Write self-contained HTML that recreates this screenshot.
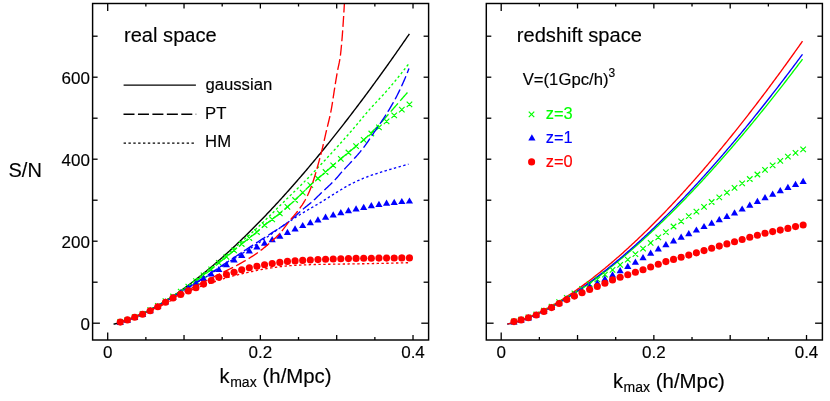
<!DOCTYPE html>
<html><head><meta charset="utf-8"><title>S/N</title>
<style>
html,body{margin:0;padding:0;background:#fff;overflow:hidden;}
body{width:830px;height:401px;position:relative;overflow:hidden;font-family:"Liberation Sans",sans-serif;color:#000;}
</style></head><body>
<svg width="830" height="401" viewBox="0 0 830 401" style="position:absolute;left:0;top:0">
<defs><clipPath id="cl"><rect x="92.6" y="3.5" width="336.0" height="336.5"/></clipPath></defs>
<rect width="830" height="401" fill="#fff"/>
<path d="M113.50,324.18 L114.49,323.98 L115.48,323.76 L116.47,323.53 L117.46,323.28 L118.45,323.03 L119.44,322.76 L120.43,322.48 L121.42,322.18 L122.41,321.88 L123.40,321.56 L124.39,321.24 L125.38,320.91 L126.37,320.56 L127.35,320.21 L128.34,319.85 L129.33,319.47 L130.32,319.09 L131.31,318.70 L132.30,318.31 L133.29,317.90 L134.28,317.49 L135.27,317.07 L136.26,316.64 L137.25,316.20 L138.24,315.76 L139.23,315.30 L140.22,314.85 L141.21,314.38 L142.20,313.91 L143.19,313.43 L144.18,312.94 L145.17,312.44 L146.16,311.94 L147.15,311.44 L148.14,310.92 L149.13,310.40 L150.12,309.88 L151.11,309.34 L152.10,308.80 L153.09,308.26 L154.07,307.71 L155.06,307.15 L156.05,306.59 L157.04,306.02 L158.03,305.44 L159.02,304.86 L160.01,304.27 L161.00,303.68 L161.99,303.08 L162.98,302.48 L163.97,301.87 L164.96,301.26 L165.95,300.64 L166.94,300.01 L167.93,299.38 L168.92,298.74 L169.91,298.10 L170.90,297.46 L171.89,296.80 L172.88,296.15 L173.87,295.48 L174.86,294.82 L175.85,294.14 L176.84,293.47 L177.83,292.79 L178.82,292.10 L179.81,291.41 L180.79,290.71 L181.78,290.01 L182.77,289.30 L183.76,288.59 L184.75,287.87 L185.74,287.15 L186.73,286.43 L187.72,285.70 L188.71,284.96 L189.70,284.22 L190.69,283.48 L191.68,282.73 L192.67,281.98 L193.66,281.22 L194.65,280.46 L195.64,279.69 L196.63,278.92 L197.62,278.15 L198.61,277.37 L199.60,276.58 L200.59,275.80 L201.58,275.00 L202.57,274.21 L203.56,273.41 L204.55,272.60 L205.54,271.79 L206.53,270.98 L207.52,270.16 L208.50,269.34 L209.49,268.51 L210.48,267.68 L211.47,266.85 L212.46,266.01 L213.45,265.17 L214.44,264.32 L215.43,263.47 L216.42,262.62 L217.41,261.76 L218.40,260.89 L219.39,260.03 L220.38,259.16 L221.37,258.28 L222.36,257.41 L223.35,256.52 L224.34,255.64 L225.33,254.75 L226.32,253.86 L227.31,252.96 L228.30,252.06 L229.29,251.15 L230.28,250.24 L231.27,249.33 L232.26,248.41 L233.25,247.49 L234.24,246.57 L235.22,245.64 L236.21,244.71 L237.20,243.78 L238.19,242.84 L239.18,241.90 L240.17,240.95 L241.16,240.00 L242.15,239.05 L243.14,238.09 L244.13,237.13 L245.12,236.17 L246.11,235.20 L247.10,234.23 L248.09,233.26 L249.08,232.28 L250.07,231.30 L251.06,230.32 L252.05,229.33 L253.04,228.34 L254.03,227.34 L255.02,226.34 L256.01,225.34 L257.00,224.34 L257.99,223.33 L258.98,222.32 L259.97,221.30 L260.96,220.28 L261.94,219.26 L262.93,218.23 L263.92,217.20 L264.91,216.17 L265.90,215.14 L266.89,214.10 L267.88,213.06 L268.87,212.01 L269.86,210.96 L270.85,209.91 L271.84,208.85 L272.83,207.80 L273.82,206.73 L274.81,205.67 L275.80,204.60 L276.79,203.53 L277.78,202.45 L278.77,201.38 L279.76,200.30 L280.75,199.21 L281.74,198.12 L282.73,197.03 L283.72,195.94 L284.71,194.84 L285.70,193.74 L286.69,192.64 L287.68,191.53 L288.66,190.42 L289.65,189.31 L290.64,188.20 L291.63,187.08 L292.62,185.96 L293.61,184.83 L294.60,183.70 L295.59,182.57 L296.58,181.44 L297.57,180.30 L298.56,179.16 L299.55,178.02 L300.54,176.87 L301.53,175.72 L302.52,174.57 L303.51,173.42 L304.50,172.26 L305.49,171.10 L306.48,169.93 L307.47,168.77 L308.46,167.60 L309.45,166.42 L310.44,165.25 L311.43,164.07 L312.42,162.89 L313.41,161.70 L314.40,160.51 L315.38,159.32 L316.37,158.13 L317.36,156.93 L318.35,155.74 L319.34,154.53 L320.33,153.33 L321.32,152.12 L322.31,150.91 L323.30,149.70 L324.29,148.48 L325.28,147.26 L326.27,146.04 L327.26,144.81 L328.25,143.59 L329.24,142.36 L330.23,141.12 L331.22,139.89 L332.21,138.65 L333.20,137.41 L334.19,136.16 L335.18,134.92 L336.17,133.67 L337.16,132.41 L338.15,131.16 L339.14,129.90 L340.13,128.64 L341.12,127.37 L342.11,126.11 L343.09,124.84 L344.08,123.57 L345.07,122.29 L346.06,121.01 L347.05,119.73 L348.04,118.45 L349.03,117.17 L350.02,115.88 L351.01,114.59 L352.00,113.29 L352.99,112.00 L353.98,110.70 L354.97,109.40 L355.96,108.09 L356.95,106.78 L357.94,105.47 L358.93,104.16 L359.92,102.85 L360.91,101.53 L361.90,100.21 L362.89,98.89 L363.88,97.56 L364.87,96.23 L365.86,94.90 L366.85,93.57 L367.84,92.23 L368.83,90.90 L369.81,89.55 L370.80,88.21 L371.79,86.86 L372.78,85.52 L373.77,84.16 L374.76,82.81 L375.75,81.45 L376.74,80.09 L377.73,78.73 L378.72,77.37 L379.71,76.00 L380.70,74.63 L381.69,73.26 L382.68,71.89 L383.67,70.51 L384.66,69.13 L385.65,67.75 L386.64,66.36 L387.63,64.98 L388.62,63.59 L389.61,62.20 L390.60,60.80 L391.59,59.40 L392.58,58.00 L393.57,56.60 L394.56,55.20 L395.55,53.79 L396.53,52.38 L397.52,50.97 L398.51,49.56 L399.50,48.14 L400.49,46.72 L401.48,45.30 L402.47,43.87 L403.46,42.45 L404.45,41.02 L405.44,39.59 L406.43,38.15 L407.42,36.72 L408.41,35.28 L409.40,33.84" stroke="#000" stroke-width="1.4" fill="none"/>
<path d="M120.25,322.10 L120.97,321.91 L121.70,321.71 L122.42,321.51 L123.14,321.30 L123.87,321.09 L124.59,320.87 L125.31,320.65 L126.04,320.43 L126.76,320.19 L127.48,319.96 L128.21,319.72 L128.93,319.47 L129.65,319.22 L130.38,318.97 L131.10,318.71 L131.82,318.44 L132.55,318.17 L133.27,317.90 L134.00,317.63 L134.72,317.35 L135.44,317.06 L136.17,316.78 L136.89,316.48 L137.61,316.19 L138.34,315.89 L139.06,315.59 L139.78,315.28 L140.51,314.98 L141.23,314.66 L141.95,314.35 L142.68,314.03 L143.40,313.71 L144.12,313.38 L144.85,313.06 L145.57,312.73 L146.29,312.39 L147.02,312.06 L147.74,311.72 L148.46,311.38 L149.19,311.04 L149.91,310.69 L150.63,310.34 L151.36,309.98 L152.08,309.62 L152.80,309.24 L153.53,308.86 L154.25,308.47 L154.97,308.08 L155.70,307.67 L156.42,307.26 L157.15,306.85 L157.87,306.42 L158.59,305.99 L159.32,305.56 L160.04,305.12 L160.76,304.67 L161.49,304.22 L162.21,303.76 L162.93,303.30 L163.66,302.83 L164.38,302.36 L165.10,301.89 L165.83,301.41 L166.55,300.93 L167.27,300.44 L168.00,299.95 L168.72,299.46 L169.44,298.97 L170.17,298.47 L170.89,297.97 L171.61,297.47 L172.34,296.97 L173.06,296.46 L173.78,295.95 L174.51,295.45 L175.23,294.94 L175.95,294.43 L176.68,293.92 L177.40,293.41 L178.12,292.90 L178.85,292.39 L179.57,291.88 L180.29,291.37 L181.02,290.86 L181.74,290.34 L182.47,289.82 L183.19,289.29 L183.91,288.75 L184.64,288.21 L185.36,287.66 L186.08,287.11 L186.81,286.55 L187.53,285.99 L188.25,285.43 L188.98,284.86 L189.70,284.29 L190.42,283.73 L191.15,283.16 L191.87,282.59 L192.59,282.02 L193.32,281.45 L194.04,280.89 L194.76,280.33 L195.49,279.76 L196.21,279.21 L196.93,278.65 L197.66,278.09 L198.38,277.54 L199.10,276.98 L199.83,276.43 L200.55,275.87 L201.27,275.32 L202.00,274.76 L202.72,274.21 L203.44,273.65 L204.17,273.10 L204.89,272.54 L205.62,271.99 L206.34,271.43 L207.06,270.87 L207.79,270.31 L208.51,269.75 L209.23,269.19 L209.96,268.62 L210.68,268.06 L211.40,267.49 L212.13,266.92 L212.85,266.35 L213.57,265.78 L214.30,265.20 L215.02,264.62 L215.74,264.04 L216.47,263.46 L217.19,262.87 L217.91,262.28 L218.64,261.69 L219.36,261.09 L220.08,260.49 L220.81,259.89 L221.53,259.28 L222.25,258.67 L222.98,258.06 L223.70,257.44 L224.42,256.82 L225.15,256.20 L225.87,255.58 L226.59,254.95 L227.32,254.33 L228.04,253.70 L228.77,253.07 L229.49,252.44 L230.21,251.80 L230.94,251.17 L231.66,250.53 L232.38,249.89 L233.11,249.26 L233.83,248.62 L234.55,247.98 L235.28,247.34 L236.00,246.70 L236.72,246.06 L237.45,245.42 L238.17,244.78 L238.89,244.15 L239.62,243.51 L240.34,242.87 L241.06,242.23 L241.79,241.60 L242.51,240.97 L243.23,240.33 L243.96,239.70 L244.68,239.07 L245.40,238.44 L246.13,237.81 L246.85,237.17 L247.57,236.54 L248.30,235.91 L249.02,235.27 L249.74,234.63 L250.47,233.99 L251.19,233.35 L251.91,232.70 L252.64,232.05 L253.36,231.40 L254.09,230.74 L254.81,230.08 L255.53,229.41 L256.26,228.74 L256.98,228.06 L257.70,227.39 L258.43,226.71 L259.15,226.02 L259.87,225.34 L260.60,224.65 L261.32,223.96 L262.04,223.26 L262.77,222.57 L263.49,221.87 L264.21,221.17 L264.94,220.47 L265.66,219.76 L266.38,219.06 L267.11,218.35 L267.83,217.64 L268.55,216.93 L269.28,216.22 L270.00,215.51 L270.72,214.79 L271.45,214.08 L272.17,213.36 L272.89,212.65 L273.62,211.93 L274.34,211.21 L275.06,210.50 L275.79,209.78 L276.51,209.06 L277.24,208.35 L277.96,207.63 L278.68,206.91 L279.41,206.20 L280.13,205.48 L280.85,204.76 L281.58,204.05 L282.30,203.34 L283.02,202.63 L283.75,201.91 L284.47,201.20 L285.19,200.50 L285.92,199.79 L286.64,199.08 L287.36,198.38 L288.09,197.68 L288.81,196.98 L289.53,196.28 L290.26,195.58 L290.98,194.88 L291.70,194.18 L292.43,193.48 L293.15,192.78 L293.87,192.08 L294.60,191.38 L295.32,190.68 L296.04,189.98 L296.77,189.28 L297.49,188.57 L298.21,187.86 L298.94,187.16 L299.66,186.44 L300.38,185.73 L301.11,185.01 L301.83,184.29 L302.56,183.57 L303.28,182.84 L304.00,182.11 L304.73,181.38 L305.45,180.64 L306.17,179.90 L306.90,179.16 L307.62,178.42 L308.34,177.67 L309.07,176.93 L309.79,176.18 L310.51,175.44 L311.24,174.69 L311.96,173.94 L312.68,173.18 L313.41,172.43 L314.13,171.68 L314.85,170.92 L315.58,170.16 L316.30,169.41 L317.02,168.65 L317.75,167.88 L318.47,167.12 L319.19,166.36 L319.92,165.59 L320.64,164.83 L321.36,164.06 L322.09,163.29 L322.81,162.52 L323.53,161.75 L324.26,160.97 L324.98,160.20 L325.71,159.42 L326.43,158.64 L327.15,157.86 L327.88,157.08 L328.60,156.30 L329.32,155.52 L330.05,154.74 L330.77,153.95 L331.49,153.16 L332.22,152.38 L332.94,151.59 L333.66,150.80 L334.39,150.00 L335.11,149.21 L335.83,148.41 L336.56,147.62 L337.28,146.82 L338.00,146.02 L338.73,145.22 L339.45,144.42 L340.17,143.62 L340.90,142.81 L341.62,142.01 L342.34,141.20 L343.07,140.39 L343.79,139.59 L344.51,138.77 L345.24,137.96 L345.96,137.15 L346.68,136.34 L347.41,135.52 L348.13,134.70 L348.86,133.88 L349.58,133.06 L350.30,132.24 L351.03,131.41 L351.75,130.58 L352.47,129.74 L353.20,128.89 L353.92,128.03 L354.64,127.18 L355.37,126.32 L356.09,125.45 L356.81,124.58 L357.54,123.71 L358.26,122.84 L358.98,121.97 L359.71,121.10 L360.43,120.22 L361.15,119.35 L361.88,118.48 L362.60,117.61 L363.32,116.75 L364.05,115.88 L364.77,115.02 L365.49,114.17 L366.22,113.32 L366.94,112.48 L367.66,111.64 L368.39,110.81 L369.11,109.99 L369.83,109.17 L370.56,108.37 L371.28,107.57 L372.00,106.77 L372.73,105.99 L373.45,105.21 L374.18,104.43 L374.90,103.66 L375.62,102.89 L376.35,102.12 L377.07,101.35 L377.79,100.59 L378.52,99.82 L379.24,99.05 L379.96,98.29 L380.69,97.52 L381.41,96.74 L382.13,95.96 L382.86,95.18 L383.58,94.39 L384.30,93.60 L385.03,92.80 L385.75,91.99 L386.47,91.17 L387.20,90.35 L387.92,89.51 L388.64,88.68 L389.37,87.83 L390.09,86.99 L390.81,86.13 L391.54,85.28 L392.26,84.42 L392.98,83.56 L393.71,82.69 L394.43,81.82 L395.15,80.95 L395.88,80.07 L396.60,79.19 L397.33,78.30 L398.05,77.41 L398.77,76.52 L399.50,75.62 L400.22,74.72 L400.94,73.81 L401.67,72.90 L402.39,71.99 L403.11,71.07 L403.84,70.15 L404.56,69.23 L405.28,68.30 L406.01,67.37 L406.73,66.43 L407.45,65.49 L408.18,64.55 L408.90,63.60" stroke="#0f0" stroke-width="1.35" fill="none" stroke-dasharray="2.4 2.45"/>
<path d="M120.25,322.00 L120.97,321.80 L121.69,321.59 L122.41,321.38 L123.13,321.16 L123.86,320.94 L124.58,320.72 L125.30,320.49 L126.02,320.26 L126.74,320.02 L127.46,319.78 L128.18,319.53 L128.90,319.28 L129.63,319.02 L130.35,318.76 L131.07,318.50 L131.79,318.22 L132.51,317.95 L133.23,317.67 L133.95,317.39 L134.67,317.11 L135.39,316.83 L136.12,316.54 L136.84,316.25 L137.56,315.95 L138.28,315.66 L139.00,315.35 L139.72,315.05 L140.44,314.74 L141.16,314.43 L141.89,314.11 L142.61,313.79 L143.33,313.46 L144.05,313.13 L144.77,312.79 L145.49,312.45 L146.21,312.10 L146.93,311.75 L147.65,311.40 L148.38,311.04 L149.10,310.67 L149.82,310.30 L150.54,309.92 L151.26,309.54 L151.98,309.15 L152.70,308.75 L153.42,308.35 L154.15,307.94 L154.87,307.53 L155.59,307.11 L156.31,306.69 L157.03,306.27 L157.75,305.84 L158.47,305.42 L159.19,304.98 L159.91,304.54 L160.64,304.09 L161.36,303.64 L162.08,303.19 L162.80,302.74 L163.52,302.29 L164.24,301.84 L164.96,301.40 L165.68,300.96 L166.41,300.52 L167.13,300.09 L167.85,299.66 L168.57,299.23 L169.29,298.80 L170.01,298.36 L170.73,297.93 L171.45,297.50 L172.17,297.06 L172.90,296.61 L173.62,296.16 L174.34,295.71 L175.06,295.25 L175.78,294.78 L176.50,294.32 L177.22,293.85 L177.94,293.38 L178.67,292.92 L179.39,292.45 L180.11,291.98 L180.83,291.52 L181.55,291.06 L182.27,290.60 L182.99,290.14 L183.71,289.69 L184.43,289.23 L185.16,288.78 L185.88,288.31 L186.60,287.85 L187.32,287.37 L188.04,286.89 L188.76,286.40 L189.48,285.90 L190.20,285.40 L190.93,284.88 L191.65,284.36 L192.37,283.84 L193.09,283.31 L193.81,282.78 L194.53,282.25 L195.25,281.72 L195.97,281.18 L196.69,280.65 L197.42,280.11 L198.14,279.56 L198.86,279.02 L199.58,278.47 L200.30,277.92 L201.02,277.37 L201.74,276.81 L202.46,276.26 L203.19,275.70 L203.91,275.14 L204.63,274.59 L205.35,274.03 L206.07,273.47 L206.79,272.91 L207.51,272.34 L208.23,271.78 L208.95,271.21 L209.68,270.63 L210.40,270.05 L211.12,269.47 L211.84,268.87 L212.56,268.26 L213.28,267.65 L214.00,267.03 L214.72,266.40 L215.45,265.77 L216.17,265.15 L216.89,264.53 L217.61,263.91 L218.33,263.31 L219.05,262.72 L219.77,262.13 L220.49,261.56 L221.21,261.00 L221.94,260.44 L222.66,259.88 L223.38,259.33 L224.10,258.77 L224.82,258.21 L225.54,257.63 L226.26,257.05 L226.98,256.46 L227.71,255.86 L228.43,255.25 L229.15,254.63 L229.87,254.02 L230.59,253.39 L231.31,252.77 L232.03,252.15 L232.75,251.53 L233.47,250.91 L234.20,250.30 L234.92,249.69 L235.64,249.07 L236.36,248.46 L237.08,247.85 L237.80,247.24 L238.52,246.63 L239.24,246.03 L239.97,245.43 L240.69,244.83 L241.41,244.24 L242.13,243.65 L242.85,243.07 L243.57,242.50 L244.29,241.93 L245.01,241.37 L245.73,240.80 L246.46,240.24 L247.18,239.68 L247.90,239.12 L248.62,238.55 L249.34,237.99 L250.06,237.42 L250.78,236.86 L251.50,236.31 L252.23,235.75 L252.95,235.19 L253.67,234.63 L254.39,234.07 L255.11,233.50 L255.83,232.92 L256.55,232.33 L257.27,231.73 L257.99,231.10 L258.72,230.46 L259.44,229.81 L260.16,229.15 L260.88,228.48 L261.60,227.82 L262.32,227.16 L263.04,226.52 L263.76,225.89 L264.49,225.27 L265.21,224.68 L265.93,224.10 L266.65,223.53 L267.37,222.98 L268.09,222.42 L268.81,221.88 L269.53,221.33 L270.26,220.78 L270.98,220.24 L271.70,219.69 L272.42,219.13 L273.14,218.58 L273.86,218.03 L274.58,217.48 L275.30,216.93 L276.02,216.38 L276.75,215.83 L277.47,215.27 L278.19,214.71 L278.91,214.14 L279.63,213.56 L280.35,212.97 L281.07,212.36 L281.79,211.75 L282.52,211.13 L283.24,210.51 L283.96,209.88 L284.68,209.24 L285.40,208.61 L286.12,207.97 L286.84,207.33 L287.56,206.70 L288.28,206.07 L289.01,205.44 L289.73,204.80 L290.45,204.17 L291.17,203.53 L291.89,202.89 L292.61,202.25 L293.33,201.60 L294.05,200.94 L294.78,200.28 L295.50,199.61 L296.22,198.93 L296.94,198.24 L297.66,197.54 L298.38,196.84 L299.10,196.13 L299.82,195.42 L300.54,194.71 L301.27,194.00 L301.99,193.29 L302.71,192.59 L303.43,191.89 L304.15,191.18 L304.87,190.47 L305.59,189.76 L306.31,189.05 L307.04,188.34 L307.76,187.64 L308.48,186.94 L309.20,186.25 L309.92,185.58 L310.64,184.91 L311.36,184.25 L312.08,183.61 L312.80,182.96 L313.53,182.33 L314.25,181.70 L314.97,181.07 L315.69,180.45 L316.41,179.83 L317.13,179.21 L317.85,178.58 L318.57,177.96 L319.30,177.34 L320.02,176.73 L320.74,176.12 L321.46,175.51 L322.18,174.90 L322.90,174.29 L323.62,173.67 L324.34,173.06 L325.06,172.44 L325.79,171.82 L326.51,171.19 L327.23,170.56 L327.95,169.92 L328.67,169.28 L329.39,168.65 L330.11,168.01 L330.83,167.37 L331.56,166.74 L332.28,166.10 L333.00,165.48 L333.72,164.85 L334.44,164.23 L335.16,163.61 L335.88,162.99 L336.60,162.37 L337.32,161.76 L338.05,161.15 L338.77,160.53 L339.49,159.93 L340.21,159.32 L340.93,158.71 L341.65,158.11 L342.37,157.51 L343.09,156.91 L343.82,156.32 L344.54,155.72 L345.26,155.13 L345.98,154.53 L346.70,153.94 L347.42,153.35 L348.14,152.75 L348.86,152.16 L349.58,151.56 L350.31,150.97 L351.03,150.37 L351.75,149.77 L352.47,149.18 L353.19,148.58 L353.91,147.99 L354.63,147.39 L355.35,146.80 L356.08,146.20 L356.80,145.61 L357.52,145.02 L358.24,144.44 L358.96,143.86 L359.68,143.28 L360.40,142.69 L361.12,142.10 L361.84,141.50 L362.57,140.89 L363.29,140.26 L364.01,139.62 L364.73,138.97 L365.45,138.30 L366.17,137.62 L366.89,136.93 L367.61,136.23 L368.34,135.53 L369.06,134.82 L369.78,134.10 L370.50,133.39 L371.22,132.68 L371.94,131.97 L372.66,131.26 L373.38,130.55 L374.10,129.83 L374.83,129.11 L375.55,128.39 L376.27,127.67 L376.99,126.93 L377.71,126.20 L378.43,125.45 L379.15,124.70 L379.87,123.93 L380.60,123.16 L381.32,122.38 L382.04,121.58 L382.76,120.78 L383.48,119.97 L384.20,119.15 L384.92,118.33 L385.64,117.51 L386.36,116.68 L387.09,115.85 L387.81,115.02 L388.53,114.19 L389.25,113.36 L389.97,112.53 L390.69,111.71 L391.41,110.88 L392.13,110.06 L392.86,109.23 L393.58,108.40 L394.30,107.56 L395.02,106.73 L395.74,105.90 L396.46,105.07 L397.18,104.24 L397.90,103.41 L398.62,102.58 L399.35,101.75 L400.07,100.92 L400.79,100.10 L401.51,99.28 L402.23,98.45 L402.95,97.63 L403.67,96.81 L404.39,95.99 L405.12,95.17 L405.84,94.35 L406.56,93.53 L407.28,92.72 L408.00,91.90" stroke="#0f0" stroke-width="1.35" fill="none" stroke-dasharray="11 3.45" stroke-dashoffset="1.82"/>
<path d="M117.50,319.25L123.00,324.75M117.50,324.75L123.00,319.25M124.65,317.05L130.15,322.55M124.65,322.55L130.15,317.05M131.95,314.35L137.45,319.85M131.95,319.85L137.45,314.35M139.82,311.05L145.32,316.55M139.82,316.55L145.32,311.05M147.45,307.35L152.95,312.85M147.45,312.85L152.95,307.35M155.07,303.05L160.57,308.55M155.07,308.55L160.57,303.05M162.70,298.35L168.20,303.85M162.70,303.85L168.20,298.35M170.32,293.75L175.82,299.25M170.32,299.25L175.82,293.75M177.95,288.85L183.45,294.35M177.95,294.35L183.45,288.85M185.57,283.95L191.07,289.45M185.57,289.45L191.07,283.95M193.20,278.45L198.70,283.95M193.20,283.95L198.70,278.45M200.82,272.65L206.32,278.15M200.82,278.15L206.32,272.65M208.45,266.65L213.95,272.15M208.45,272.15L213.95,266.65M216.07,260.15L221.57,265.65M216.07,265.65L221.57,260.15M223.70,254.15L229.20,259.65M223.70,259.65L229.20,254.15M231.32,247.65L236.82,253.15M231.32,253.15L236.82,247.65M238.95,241.25L244.45,246.75M238.95,246.75L244.45,241.25M246.57,235.25L252.07,240.75M246.57,240.75L252.07,235.25M254.20,229.25L259.70,234.75M254.20,234.75L259.70,229.25M261.82,222.45L267.32,227.95M261.82,227.95L267.32,222.45M269.45,216.55L274.95,222.05M269.45,222.05L274.95,216.55M277.07,210.65L282.57,216.15M277.07,216.15L282.57,210.65M284.70,204.05L290.20,209.55M284.70,209.55L290.20,204.05M292.32,197.25L297.82,202.75M292.32,202.75L297.82,197.25M299.95,189.85L305.45,195.35M299.95,195.35L305.45,189.85M307.57,182.45L313.07,187.95M307.57,187.95L313.07,182.45M315.20,175.75L320.70,181.25M315.20,181.25L320.70,175.75M322.82,169.25L328.32,174.75M322.82,174.75L328.32,169.25M330.45,162.55L335.95,168.05M330.45,168.05L335.95,162.55M338.07,156.05L343.57,161.55M338.07,161.55L343.57,156.05M345.70,149.75L351.20,155.25M345.70,155.25L351.20,149.75M353.32,143.45L358.82,148.95M353.32,148.95L358.82,143.45M360.95,137.15L366.45,142.65M360.95,142.65L366.45,137.15M368.57,130.75L374.07,136.25M368.57,136.25L374.07,130.75M376.20,124.55L381.70,130.05M376.20,130.05L381.70,124.55M383.82,118.55L389.32,124.05M383.82,124.05L389.32,118.55M391.45,112.65L396.95,118.15M391.45,118.15L396.95,112.65M399.07,106.95L404.57,112.45M399.07,112.45L404.57,106.95M406.70,101.55L412.20,107.05M406.70,107.05L412.20,101.55" stroke="#0f0" stroke-width="1.2" fill="none"/>
<path d="M120.25,322.10 L120.97,321.87 L121.69,321.64 L122.42,321.40 L123.14,321.16 L123.86,320.92 L124.58,320.67 L125.31,320.42 L126.03,320.16 L126.75,319.91 L127.47,319.65 L128.20,319.38 L128.92,319.12 L129.64,318.85 L130.36,318.58 L131.09,318.30 L131.81,318.02 L132.53,317.74 L133.25,317.46 L133.98,317.17 L134.70,316.88 L135.42,316.58 L136.14,316.29 L136.87,315.99 L137.59,315.69 L138.31,315.39 L139.03,315.08 L139.76,314.77 L140.48,314.46 L141.20,314.15 L141.92,313.83 L142.65,313.51 L143.37,313.19 L144.09,312.87 L144.81,312.54 L145.54,312.21 L146.26,311.88 L146.98,311.55 L147.70,311.21 L148.42,310.88 L149.15,310.54 L149.87,310.20 L150.59,309.86 L151.31,309.51 L152.04,309.15 L152.76,308.80 L153.48,308.43 L154.20,308.06 L154.93,307.68 L155.65,307.30 L156.37,306.91 L157.09,306.52 L157.82,306.12 L158.54,305.72 L159.26,305.32 L159.98,304.91 L160.71,304.50 L161.43,304.08 L162.15,303.66 L162.87,303.24 L163.60,302.81 L164.32,302.38 L165.04,301.95 L165.76,301.52 L166.49,301.08 L167.21,300.65 L167.93,300.21 L168.65,299.77 L169.38,299.33 L170.10,298.88 L170.82,298.44 L171.54,298.00 L172.27,297.55 L172.99,297.11 L173.71,296.67 L174.43,296.22 L175.15,295.78 L175.88,295.34 L176.60,294.90 L177.32,294.46 L178.04,294.02 L178.77,293.58 L179.49,293.14 L180.21,292.71 L180.93,292.28 L181.66,291.85 L182.38,291.42 L183.10,290.99 L183.82,290.55 L184.55,290.12 L185.27,289.69 L185.99,289.25 L186.71,288.82 L187.44,288.38 L188.16,287.95 L188.88,287.51 L189.60,287.07 L190.33,286.63 L191.05,286.19 L191.77,285.75 L192.49,285.31 L193.22,284.87 L193.94,284.43 L194.66,283.98 L195.38,283.54 L196.11,283.09 L196.83,282.65 L197.55,282.20 L198.27,281.75 L198.99,281.31 L199.72,280.86 L200.44,280.41 L201.16,279.95 L201.88,279.50 L202.61,279.05 L203.33,278.60 L204.05,278.14 L204.77,277.68 L205.50,277.23 L206.22,276.77 L206.94,276.30 L207.66,275.84 L208.39,275.38 L209.11,274.91 L209.83,274.44 L210.55,273.97 L211.28,273.51 L212.00,273.03 L212.72,272.56 L213.44,272.09 L214.17,271.62 L214.89,271.15 L215.61,270.67 L216.33,270.20 L217.06,269.73 L217.78,269.25 L218.50,268.78 L219.22,268.30 L219.95,267.83 L220.67,267.36 L221.39,266.89 L222.11,266.41 L222.84,265.94 L223.56,265.47 L224.28,265.00 L225.00,264.53 L225.72,264.07 L226.45,263.60 L227.17,263.13 L227.89,262.67 L228.61,262.20 L229.34,261.74 L230.06,261.28 L230.78,260.81 L231.50,260.35 L232.23,259.89 L232.95,259.43 L233.67,258.97 L234.39,258.50 L235.12,258.04 L235.84,257.58 L236.56,257.12 L237.28,256.66 L238.01,256.20 L238.73,255.74 L239.45,255.28 L240.17,254.81 L240.90,254.35 L241.62,253.89 L242.34,253.43 L243.06,252.97 L243.79,252.50 L244.51,252.04 L245.23,251.57 L245.95,251.11 L246.68,250.64 L247.40,250.18 L248.12,249.71 L248.84,249.25 L249.57,248.79 L250.29,248.32 L251.01,247.86 L251.73,247.40 L252.45,246.93 L253.18,246.47 L253.90,246.01 L254.62,245.54 L255.34,245.07 L256.07,244.60 L256.79,244.13 L257.51,243.65 L258.23,243.18 L258.96,242.70 L259.68,242.22 L260.40,241.73 L261.12,241.24 L261.85,240.75 L262.57,240.25 L263.29,239.75 L264.01,239.25 L264.74,238.74 L265.46,238.24 L266.18,237.73 L266.90,237.21 L267.63,236.70 L268.35,236.19 L269.07,235.67 L269.79,235.15 L270.52,234.64 L271.24,234.12 L271.96,233.60 L272.68,233.08 L273.41,232.56 L274.13,232.04 L274.85,231.52 L275.57,231.00 L276.30,230.49 L277.02,229.97 L277.74,229.45 L278.46,228.94 L279.18,228.43 L279.91,227.92 L280.63,227.41 L281.35,226.91 L282.07,226.40 L282.80,225.90 L283.52,225.41 L284.24,224.91 L284.96,224.42 L285.69,223.94 L286.41,223.45 L287.13,222.96 L287.85,222.48 L288.58,222.00 L289.30,221.51 L290.02,221.03 L290.74,220.56 L291.47,220.08 L292.19,219.60 L292.91,219.13 L293.63,218.66 L294.36,218.19 L295.08,217.72 L295.80,217.26 L296.52,216.79 L297.25,216.33 L297.97,215.87 L298.69,215.42 L299.41,214.97 L300.14,214.52 L300.86,214.07 L301.58,213.63 L302.30,213.19 L303.03,212.75 L303.75,212.32 L304.47,211.89 L305.19,211.47 L305.91,211.04 L306.64,210.62 L307.36,210.20 L308.08,209.78 L308.80,209.36 L309.53,208.94 L310.25,208.52 L310.97,208.11 L311.69,207.69 L312.42,207.27 L313.14,206.85 L313.86,206.44 L314.58,206.02 L315.31,205.59 L316.03,205.17 L316.75,204.75 L317.47,204.32 L318.20,203.89 L318.92,203.45 L319.64,203.02 L320.36,202.58 L321.09,202.14 L321.81,201.69 L322.53,201.24 L323.25,200.79 L323.98,200.33 L324.70,199.88 L325.42,199.42 L326.14,198.96 L326.87,198.50 L327.59,198.04 L328.31,197.58 L329.03,197.13 L329.76,196.67 L330.48,196.21 L331.20,195.75 L331.92,195.30 L332.64,194.85 L333.37,194.40 L334.09,193.96 L334.81,193.51 L335.53,193.07 L336.26,192.63 L336.98,192.19 L337.70,191.74 L338.42,191.30 L339.15,190.85 L339.87,190.41 L340.59,189.96 L341.31,189.52 L342.04,189.08 L342.76,188.64 L343.48,188.21 L344.20,187.78 L344.93,187.36 L345.65,186.94 L346.37,186.52 L347.09,186.11 L347.82,185.71 L348.54,185.32 L349.26,184.93 L349.98,184.56 L350.71,184.19 L351.43,183.82 L352.15,183.45 L352.87,183.09 L353.60,182.74 L354.32,182.38 L355.04,182.03 L355.76,181.69 L356.48,181.35 L357.21,181.01 L357.93,180.68 L358.65,180.35 L359.37,180.03 L360.10,179.71 L360.82,179.39 L361.54,179.08 L362.26,178.77 L362.99,178.47 L363.71,178.18 L364.43,177.89 L365.15,177.60 L365.88,177.32 L366.60,177.04 L367.32,176.77 L368.04,176.50 L368.77,176.24 L369.49,175.98 L370.21,175.72 L370.93,175.47 L371.66,175.22 L372.38,174.97 L373.10,174.72 L373.82,174.48 L374.55,174.24 L375.27,174.00 L375.99,173.77 L376.71,173.53 L377.44,173.29 L378.16,173.06 L378.88,172.83 L379.60,172.60 L380.33,172.36 L381.05,172.13 L381.77,171.91 L382.49,171.68 L383.21,171.46 L383.94,171.23 L384.66,171.01 L385.38,170.79 L386.10,170.58 L386.83,170.36 L387.55,170.14 L388.27,169.93 L388.99,169.72 L389.72,169.51 L390.44,169.29 L391.16,169.08 L391.88,168.87 L392.61,168.66 L393.33,168.45 L394.05,168.25 L394.77,168.04 L395.50,167.83 L396.22,167.62 L396.94,167.41 L397.66,167.21 L398.39,167.00 L399.11,166.80 L399.83,166.59 L400.55,166.39 L401.28,166.19 L402.00,165.98 L402.72,165.78 L403.44,165.58 L404.17,165.38 L404.89,165.18 L405.61,164.99 L406.33,164.79 L407.06,164.59 L407.78,164.40 L408.50,164.20" stroke="#00f" stroke-width="1.35" fill="none" stroke-dasharray="2.4 2.45"/>
<path d="M120.25,322.10 L120.97,321.87 L121.70,321.63 L122.42,321.39 L123.14,321.15 L123.87,320.91 L124.59,320.66 L125.32,320.41 L126.04,320.15 L126.76,319.89 L127.49,319.63 L128.21,319.36 L128.93,319.09 L129.66,318.82 L130.38,318.55 L131.11,318.27 L131.83,317.99 L132.55,317.70 L133.28,317.41 L134.00,317.12 L134.72,316.83 L135.45,316.53 L136.17,316.24 L136.89,315.93 L137.62,315.63 L138.34,315.32 L139.07,315.01 L139.79,314.70 L140.51,314.39 L141.24,314.07 L141.96,313.75 L142.68,313.43 L143.41,313.10 L144.13,312.77 L144.86,312.45 L145.58,312.11 L146.30,311.78 L147.03,311.44 L147.75,311.10 L148.47,310.76 L149.20,310.42 L149.92,310.08 L150.64,309.73 L151.37,309.38 L152.09,309.02 L152.82,308.66 L153.54,308.29 L154.26,307.91 L154.99,307.53 L155.71,307.14 L156.43,306.75 L157.16,306.36 L157.88,305.95 L158.61,305.55 L159.33,305.14 L160.05,304.73 L160.78,304.31 L161.50,303.89 L162.22,303.46 L162.95,303.04 L163.67,302.61 L164.39,302.17 L165.12,301.74 L165.84,301.30 L166.57,300.86 L167.29,300.42 L168.01,299.97 L168.74,299.53 L169.46,299.08 L170.18,298.63 L170.91,298.18 L171.63,297.73 L172.36,297.28 L173.08,296.83 L173.80,296.38 L174.53,295.93 L175.25,295.48 L175.97,295.03 L176.70,294.58 L177.42,294.13 L178.14,293.69 L178.87,293.24 L179.59,292.80 L180.32,292.36 L181.04,291.92 L181.76,291.47 L182.49,291.03 L183.21,290.59 L183.93,290.15 L184.66,289.70 L185.38,289.26 L186.11,288.81 L186.83,288.36 L187.55,287.91 L188.28,287.46 L189.00,287.01 L189.72,286.56 L190.45,286.10 L191.17,285.65 L191.89,285.19 L192.62,284.74 L193.34,284.28 L194.07,283.82 L194.79,283.37 L195.51,282.91 L196.24,282.45 L196.96,281.99 L197.68,281.52 L198.41,281.06 L199.13,280.60 L199.86,280.14 L200.58,279.67 L201.30,279.21 L202.03,278.74 L202.75,278.28 L203.47,277.81 L204.20,277.34 L204.92,276.88 L205.64,276.41 L206.37,275.93 L207.09,275.46 L207.82,274.99 L208.54,274.51 L209.26,274.04 L209.99,273.56 L210.71,273.08 L211.43,272.60 L212.16,272.12 L212.88,271.64 L213.61,271.16 L214.33,270.68 L215.05,270.20 L215.78,269.72 L216.50,269.24 L217.22,268.75 L217.95,268.27 L218.67,267.79 L219.39,267.30 L220.12,266.82 L220.84,266.34 L221.57,265.85 L222.29,265.37 L223.01,264.89 L223.74,264.40 L224.46,263.92 L225.18,263.44 L225.91,262.96 L226.63,262.48 L227.36,262.00 L228.08,261.52 L228.80,261.04 L229.53,260.55 L230.25,260.07 L230.97,259.59 L231.70,259.11 L232.42,258.62 L233.14,258.14 L233.87,257.66 L234.59,257.17 L235.32,256.69 L236.04,256.21 L236.76,255.72 L237.49,255.24 L238.21,254.76 L238.93,254.27 L239.66,253.79 L240.38,253.31 L241.11,252.83 L241.83,252.35 L242.55,251.87 L243.28,251.39 L244.00,250.91 L244.72,250.43 L245.45,249.96 L246.17,249.48 L246.89,249.00 L247.62,248.53 L248.34,248.06 L249.07,247.58 L249.79,247.11 L250.51,246.64 L251.24,246.17 L251.96,245.70 L252.68,245.23 L253.41,244.76 L254.13,244.29 L254.86,243.82 L255.58,243.36 L256.30,242.89 L257.03,242.42 L257.75,241.95 L258.47,241.49 L259.20,241.02 L259.92,240.55 L260.64,240.08 L261.37,239.62 L262.09,239.15 L262.82,238.69 L263.54,238.23 L264.26,237.76 L264.99,237.30 L265.71,236.84 L266.43,236.37 L267.16,235.91 L267.88,235.44 L268.61,234.98 L269.33,234.51 L270.05,234.04 L270.78,233.57 L271.50,233.10 L272.22,232.64 L272.95,232.18 L273.67,231.73 L274.39,231.27 L275.12,230.82 L275.84,230.37 L276.57,229.91 L277.29,229.46 L278.01,229.00 L278.74,228.54 L279.46,228.08 L280.18,227.62 L280.91,227.16 L281.63,226.68 L282.36,226.21 L283.08,225.73 L283.80,225.24 L284.53,224.75 L285.25,224.25 L285.97,223.75 L286.70,223.23 L287.42,222.71 L288.14,222.18 L288.87,221.64 L289.59,221.08 L290.32,220.52 L291.04,219.92 L291.76,219.31 L292.49,218.68 L293.21,218.04 L293.93,217.38 L294.66,216.72 L295.38,216.05 L296.11,215.37 L296.83,214.69 L297.55,214.01 L298.28,213.34 L299.00,212.67 L299.72,212.01 L300.45,211.37 L301.17,210.74 L301.89,210.12 L302.62,209.51 L303.34,208.91 L304.07,208.32 L304.79,207.73 L305.51,207.15 L306.24,206.57 L306.96,205.98 L307.68,205.40 L308.41,204.82 L309.13,204.23 L309.86,203.63 L310.58,203.03 L311.30,202.42 L312.03,201.80 L312.75,201.17 L313.47,200.52 L314.20,199.86 L314.92,199.18 L315.64,198.48 L316.37,197.78 L317.09,197.06 L317.82,196.35 L318.54,195.63 L319.26,194.92 L319.99,194.21 L320.71,193.52 L321.43,192.83 L322.16,192.15 L322.88,191.47 L323.61,190.79 L324.33,190.12 L325.05,189.45 L325.78,188.77 L326.50,188.10 L327.22,187.43 L327.95,186.75 L328.67,186.07 L329.39,185.38 L330.12,184.69 L330.84,183.99 L331.57,183.29 L332.29,182.57 L333.01,181.85 L333.74,181.11 L334.46,180.37 L335.18,179.60 L335.91,178.82 L336.63,178.01 L337.36,177.18 L338.08,176.34 L338.80,175.49 L339.53,174.63 L340.25,173.78 L340.97,172.93 L341.70,172.10 L342.42,171.29 L343.14,170.49 L343.87,169.71 L344.59,168.93 L345.32,168.16 L346.04,167.40 L346.76,166.64 L347.49,165.88 L348.21,165.12 L348.93,164.36 L349.66,163.59 L350.38,162.82 L351.11,162.03 L351.83,161.24 L352.55,160.45 L353.28,159.66 L354.00,158.87 L354.72,158.07 L355.45,157.28 L356.17,156.47 L356.89,155.66 L357.62,154.84 L358.34,154.02 L359.07,153.17 L359.79,152.32 L360.51,151.44 L361.24,150.55 L361.96,149.64 L362.68,148.71 L363.41,147.76 L364.13,146.80 L364.86,145.82 L365.58,144.82 L366.30,143.82 L367.03,142.80 L367.75,141.78 L368.47,140.75 L369.20,139.71 L369.92,138.67 L370.64,137.61 L371.37,136.54 L372.09,135.44 L372.82,134.34 L373.54,133.25 L374.26,132.15 L374.99,131.08 L375.71,130.01 L376.43,128.95 L377.16,127.89 L377.88,126.84 L378.61,125.79 L379.33,124.74 L380.05,123.69 L380.78,122.63 L381.50,121.57 L382.22,120.49 L382.95,119.41 L383.67,118.31 L384.39,117.19 L385.12,116.06 L385.84,114.92 L386.57,113.77 L387.29,112.61 L388.01,111.45 L388.74,110.28 L389.46,109.09 L390.18,107.89 L390.91,106.68 L391.63,105.45 L392.36,104.20 L393.08,102.93 L393.80,101.63 L394.53,100.32 L395.25,98.98 L395.97,97.61 L396.70,96.22 L397.42,94.79 L398.14,93.35 L398.87,91.87 L399.59,90.37 L400.32,88.85 L401.04,87.31 L401.76,85.74 L402.49,84.15 L403.21,82.52 L403.93,80.87 L404.66,79.19 L405.38,77.47 L406.11,75.73 L406.83,73.96 L407.55,72.17 L408.28,70.35 L409.00,68.50" stroke="#00f" stroke-width="1.35" fill="none" stroke-dasharray="11 3.45" stroke-dashoffset="1.31"/>
<path d="M120.25,318.80 L123.85,325.00 L116.65,325.00Z" fill="#00f"/>
<path d="M127.40,316.60 L131.00,322.80 L123.80,322.80Z" fill="#00f"/>
<path d="M134.70,313.90 L138.30,320.10 L131.10,320.10Z" fill="#00f"/>
<path d="M142.57,310.70 L146.17,316.90 L138.97,316.90Z" fill="#00f"/>
<path d="M150.20,307.10 L153.80,313.30 L146.60,313.30Z" fill="#00f"/>
<path d="M157.82,302.90 L161.42,309.10 L154.22,309.10Z" fill="#00f"/>
<path d="M165.45,298.20 L169.05,304.40 L161.85,304.40Z" fill="#00f"/>
<path d="M173.07,293.80 L176.67,300.00 L169.47,300.00Z" fill="#00f"/>
<path d="M180.70,289.10 L184.30,295.30 L177.10,295.30Z" fill="#00f"/>
<path d="M188.32,284.30 L191.92,290.50 L184.72,290.50Z" fill="#00f"/>
<path d="M195.95,279.90 L199.55,286.10 L192.35,286.10Z" fill="#00f"/>
<path d="M203.57,274.90 L207.17,281.10 L199.97,281.10Z" fill="#00f"/>
<path d="M211.20,270.40 L214.80,276.60 L207.60,276.60Z" fill="#00f"/>
<path d="M218.82,265.90 L222.42,272.10 L215.22,272.10Z" fill="#00f"/>
<path d="M226.45,261.00 L230.05,267.20 L222.85,267.20Z" fill="#00f"/>
<path d="M234.07,256.20 L237.67,262.40 L230.47,262.40Z" fill="#00f"/>
<path d="M241.70,251.70 L245.30,257.90 L238.10,257.90Z" fill="#00f"/>
<path d="M249.32,247.20 L252.92,253.40 L245.72,253.40Z" fill="#00f"/>
<path d="M256.95,243.20 L260.55,249.40 L253.35,249.40Z" fill="#00f"/>
<path d="M264.57,239.50 L268.18,245.70 L260.97,245.70Z" fill="#00f"/>
<path d="M272.20,236.00 L275.80,242.20 L268.60,242.20Z" fill="#00f"/>
<path d="M279.82,232.50 L283.43,238.70 L276.22,238.70Z" fill="#00f"/>
<path d="M287.45,228.80 L291.05,235.00 L283.85,235.00Z" fill="#00f"/>
<path d="M295.07,225.20 L298.68,231.40 L291.47,231.40Z" fill="#00f"/>
<path d="M302.70,221.90 L306.30,228.10 L299.10,228.10Z" fill="#00f"/>
<path d="M310.32,219.00 L313.93,225.20 L306.72,225.20Z" fill="#00f"/>
<path d="M317.95,216.20 L321.55,222.40 L314.35,222.40Z" fill="#00f"/>
<path d="M325.57,213.60 L329.18,219.80 L321.97,219.80Z" fill="#00f"/>
<path d="M333.20,211.30 L336.80,217.50 L329.60,217.50Z" fill="#00f"/>
<path d="M340.82,209.10 L344.43,215.30 L337.22,215.30Z" fill="#00f"/>
<path d="M348.45,207.10 L352.05,213.30 L344.85,213.30Z" fill="#00f"/>
<path d="M356.07,205.30 L359.68,211.50 L352.47,211.50Z" fill="#00f"/>
<path d="M363.70,203.70 L367.30,209.90 L360.10,209.90Z" fill="#00f"/>
<path d="M371.32,202.10 L374.93,208.30 L367.72,208.30Z" fill="#00f"/>
<path d="M378.95,200.80 L382.55,207.00 L375.35,207.00Z" fill="#00f"/>
<path d="M386.57,199.60 L390.18,205.80 L382.97,205.80Z" fill="#00f"/>
<path d="M394.20,198.70 L397.80,204.90 L390.60,204.90Z" fill="#00f"/>
<path d="M401.82,197.90 L405.43,204.10 L398.22,204.10Z" fill="#00f"/>
<path d="M409.45,197.40 L413.05,203.60 L405.85,203.60Z" fill="#00f"/>
<path d="M120.25,322.10 L120.97,321.87 L121.70,321.65 L122.42,321.42 L123.15,321.18 L123.87,320.95 L124.60,320.71 L125.32,320.47 L126.05,320.23 L126.77,319.98 L127.50,319.74 L128.22,319.49 L128.95,319.24 L129.67,318.98 L130.40,318.72 L131.12,318.47 L131.84,318.21 L132.57,317.94 L133.29,317.68 L134.02,317.41 L134.74,317.14 L135.47,316.87 L136.19,316.59 L136.92,316.32 L137.64,316.04 L138.37,315.76 L139.09,315.48 L139.82,315.20 L140.54,314.91 L141.27,314.62 L141.99,314.33 L142.72,314.04 L143.44,313.75 L144.16,313.45 L144.89,313.16 L145.61,312.86 L146.34,312.56 L147.06,312.26 L147.79,311.95 L148.51,311.65 L149.24,311.34 L149.96,311.03 L150.69,310.72 L151.41,310.41 L152.14,310.09 L152.86,309.76 L153.59,309.43 L154.31,309.10 L155.03,308.76 L155.76,308.42 L156.48,308.07 L157.21,307.72 L157.93,307.37 L158.66,307.01 L159.38,306.65 L160.11,306.29 L160.83,305.93 L161.56,305.56 L162.28,305.19 L163.01,304.82 L163.73,304.44 L164.46,304.07 L165.18,303.69 L165.91,303.31 L166.63,302.93 L167.35,302.55 L168.08,302.17 L168.80,301.79 L169.53,301.40 L170.25,301.02 L170.98,300.64 L171.70,300.26 L172.43,299.87 L173.15,299.49 L173.88,299.11 L174.60,298.73 L175.33,298.35 L176.05,297.98 L176.78,297.60 L177.50,297.23 L178.22,296.85 L178.95,296.48 L179.67,296.12 L180.40,295.75 L181.12,295.39 L181.85,295.02 L182.57,294.65 L183.30,294.28 L184.02,293.90 L184.75,293.52 L185.47,293.14 L186.20,292.76 L186.92,292.38 L187.65,292.00 L188.37,291.63 L189.10,291.26 L189.82,290.89 L190.54,290.53 L191.27,290.18 L191.99,289.83 L192.72,289.49 L193.44,289.17 L194.17,288.85 L194.89,288.54 L195.62,288.25 L196.34,287.96 L197.07,287.68 L197.79,287.41 L198.52,287.14 L199.24,286.88 L199.97,286.62 L200.69,286.36 L201.41,286.11 L202.14,285.87 L202.86,285.62 L203.59,285.38 L204.31,285.14 L205.04,284.90 L205.76,284.67 L206.49,284.43 L207.21,284.19 L207.94,283.95 L208.66,283.71 L209.39,283.47 L210.11,283.23 L210.84,282.98 L211.56,282.74 L212.29,282.49 L213.01,282.24 L213.73,281.99 L214.46,281.75 L215.18,281.50 L215.91,281.25 L216.63,281.00 L217.36,280.76 L218.08,280.51 L218.81,280.27 L219.53,280.02 L220.26,279.78 L220.98,279.54 L221.71,279.30 L222.43,279.07 L223.16,278.83 L223.88,278.60 L224.60,278.37 L225.33,278.14 L226.05,277.92 L226.78,277.70 L227.50,277.49 L228.23,277.27 L228.95,277.07 L229.68,276.86 L230.40,276.66 L231.13,276.46 L231.85,276.27 L232.58,276.08 L233.30,275.89 L234.03,275.70 L234.75,275.52 L235.48,275.34 L236.20,275.16 L236.92,274.98 L237.65,274.80 L238.37,274.63 L239.10,274.45 L239.82,274.28 L240.55,274.11 L241.27,273.94 L242.00,273.77 L242.72,273.61 L243.45,273.44 L244.17,273.27 L244.90,273.11 L245.62,272.94 L246.35,272.78 L247.07,272.62 L247.79,272.45 L248.52,272.29 L249.24,272.13 L249.97,271.96 L250.69,271.80 L251.42,271.63 L252.14,271.47 L252.87,271.31 L253.59,271.15 L254.32,270.98 L255.04,270.83 L255.77,270.67 L256.49,270.51 L257.22,270.36 L257.94,270.21 L258.67,270.06 L259.39,269.92 L260.11,269.78 L260.84,269.64 L261.56,269.50 L262.29,269.37 L263.01,269.23 L263.74,269.10 L264.46,268.97 L265.19,268.84 L265.91,268.72 L266.64,268.59 L267.36,268.48 L268.09,268.36 L268.81,268.25 L269.54,268.14 L270.26,268.03 L270.98,267.93 L271.71,267.82 L272.43,267.72 L273.16,267.62 L273.88,267.51 L274.61,267.41 L275.33,267.31 L276.06,267.21 L276.78,267.11 L277.51,267.02 L278.23,266.92 L278.96,266.83 L279.68,266.74 L280.41,266.65 L281.13,266.56 L281.86,266.47 L282.58,266.39 L283.30,266.30 L284.03,266.23 L284.75,266.15 L285.48,266.07 L286.20,266.00 L286.93,265.93 L287.65,265.87 L288.38,265.81 L289.10,265.75 L289.83,265.69 L290.55,265.64 L291.28,265.59 L292.00,265.54 L292.73,265.49 L293.45,265.44 L294.17,265.40 L294.90,265.36 L295.62,265.32 L296.35,265.28 L297.07,265.24 L297.80,265.20 L298.52,265.17 L299.25,265.13 L299.97,265.10 L300.70,265.07 L301.42,265.04 L302.15,265.00 L302.87,264.97 L303.60,264.94 L304.32,264.91 L305.05,264.88 L305.77,264.85 L306.49,264.82 L307.22,264.79 L307.94,264.76 L308.67,264.73 L309.39,264.71 L310.12,264.68 L310.84,264.65 L311.57,264.63 L312.29,264.60 L313.02,264.58 L313.74,264.56 L314.47,264.53 L315.19,264.51 L315.92,264.49 L316.64,264.47 L317.36,264.45 L318.09,264.44 L318.81,264.42 L319.54,264.40 L320.26,264.39 L320.99,264.37 L321.71,264.36 L322.44,264.35 L323.16,264.34 L323.89,264.33 L324.61,264.31 L325.34,264.30 L326.06,264.29 L326.79,264.28 L327.51,264.27 L328.24,264.26 L328.96,264.25 L329.68,264.24 L330.41,264.23 L331.13,264.22 L331.86,264.21 L332.58,264.20 L333.31,264.19 L334.03,264.18 L334.76,264.17 L335.48,264.16 L336.21,264.15 L336.93,264.13 L337.66,264.12 L338.38,264.11 L339.11,264.10 L339.83,264.09 L340.55,264.08 L341.28,264.07 L342.00,264.06 L342.73,264.05 L343.45,264.04 L344.18,264.02 L344.90,264.01 L345.63,264.00 L346.35,263.99 L347.08,263.98 L347.80,263.97 L348.53,263.96 L349.25,263.95 L349.98,263.94 L350.70,263.92 L351.43,263.91 L352.15,263.90 L352.87,263.89 L353.60,263.88 L354.32,263.87 L355.05,263.86 L355.77,263.85 L356.50,263.83 L357.22,263.82 L357.95,263.81 L358.67,263.80 L359.40,263.79 L360.12,263.77 L360.85,263.76 L361.57,263.75 L362.30,263.74 L363.02,263.73 L363.74,263.71 L364.47,263.70 L365.19,263.69 L365.92,263.67 L366.64,263.66 L367.37,263.65 L368.09,263.64 L368.82,263.62 L369.54,263.61 L370.27,263.59 L370.99,263.58 L371.72,263.57 L372.44,263.55 L373.17,263.54 L373.89,263.52 L374.62,263.51 L375.34,263.50 L376.06,263.48 L376.79,263.47 L377.51,263.45 L378.24,263.44 L378.96,263.42 L379.69,263.41 L380.41,263.39 L381.14,263.38 L381.86,263.36 L382.59,263.35 L383.31,263.33 L384.04,263.31 L384.76,263.30 L385.49,263.28 L386.21,263.27 L386.93,263.25 L387.66,263.23 L388.38,263.22 L389.11,263.20 L389.83,263.18 L390.56,263.17 L391.28,263.15 L392.01,263.13 L392.73,263.12 L393.46,263.10 L394.18,263.08 L394.91,263.06 L395.63,263.05 L396.36,263.03 L397.08,263.01 L397.81,262.99 L398.53,262.98 L399.25,262.96 L399.98,262.94 L400.70,262.92 L401.43,262.90 L402.15,262.89 L402.88,262.87 L403.60,262.85 L404.33,262.83 L405.05,262.81 L405.78,262.79 L406.50,262.78 L407.23,262.76 L407.95,262.74 L408.68,262.72 L409.40,262.70" stroke="#f00" stroke-width="1.35" fill="none" stroke-dasharray="2.4 2.45"/>
<path d="M120.25,322.10 L120.81,321.91 L121.37,321.72 L121.94,321.53 L122.50,321.34 L123.06,321.14 L123.62,320.95 L124.18,320.75 L124.74,320.55 L125.31,320.35 L125.87,320.15 L126.43,319.94 L126.99,319.74 L127.55,319.53 L128.11,319.33 L128.68,319.12 L129.24,318.91 L129.80,318.69 L130.36,318.48 L130.92,318.27 L131.49,318.05 L132.05,317.83 L132.61,317.61 L133.17,317.39 L133.73,317.17 L134.29,316.95 L134.86,316.72 L135.42,316.50 L135.98,316.27 L136.54,316.04 L137.10,315.81 L137.67,315.58 L138.23,315.35 L138.79,315.12 L139.35,314.88 L139.91,314.65 L140.47,314.41 L141.04,314.17 L141.60,313.94 L142.16,313.70 L142.72,313.45 L143.28,313.21 L143.84,312.97 L144.41,312.72 L144.97,312.48 L145.53,312.23 L146.09,311.98 L146.65,311.73 L147.22,311.48 L147.78,311.23 L148.34,310.98 L148.90,310.73 L149.46,310.47 L150.02,310.22 L150.59,309.96 L151.15,309.70 L151.71,309.44 L152.27,309.17 L152.83,308.91 L153.39,308.63 L153.96,308.36 L154.52,308.08 L155.08,307.80 L155.64,307.52 L156.20,307.24 L156.77,306.95 L157.33,306.66 L157.89,306.37 L158.45,306.08 L159.01,305.78 L159.57,305.49 L160.14,305.19 L160.70,304.89 L161.26,304.58 L161.82,304.28 L162.38,303.98 L162.95,303.67 L163.51,303.36 L164.07,303.05 L164.63,302.74 L165.19,302.43 L165.75,302.12 L166.32,301.81 L166.88,301.50 L167.44,301.19 L168.00,300.87 L168.56,300.56 L169.12,300.25 L169.69,299.93 L170.25,299.62 L170.81,299.30 L171.37,298.99 L171.93,298.68 L172.50,298.37 L173.06,298.05 L173.62,297.74 L174.18,297.43 L174.74,297.12 L175.30,296.81 L175.87,296.50 L176.43,296.20 L176.99,295.89 L177.55,295.58 L178.11,295.28 L178.68,294.98 L179.24,294.68 L179.80,294.38 L180.36,294.08 L180.92,293.79 L181.48,293.49 L182.05,293.20 L182.61,292.91 L183.17,292.61 L183.73,292.32 L184.29,292.03 L184.85,291.74 L185.42,291.45 L185.98,291.15 L186.54,290.86 L187.10,290.57 L187.66,290.28 L188.23,289.99 L188.79,289.70 L189.35,289.41 L189.91,289.12 L190.47,288.83 L191.03,288.54 L191.60,288.25 L192.16,287.96 L192.72,287.67 L193.28,287.38 L193.84,287.10 L194.40,286.81 L194.97,286.52 L195.53,286.23 L196.09,285.94 L196.65,285.65 L197.21,285.37 L197.78,285.08 L198.34,284.79 L198.90,284.50 L199.46,284.22 L200.02,283.93 L200.58,283.64 L201.15,283.36 L201.71,283.07 L202.27,282.78 L202.83,282.49 L203.39,282.21 L203.96,281.92 L204.52,281.63 L205.08,281.35 L205.64,281.06 L206.20,280.78 L206.76,280.49 L207.33,280.21 L207.89,279.92 L208.45,279.63 L209.01,279.35 L209.57,279.07 L210.13,278.78 L210.70,278.50 L211.26,278.21 L211.82,277.93 L212.38,277.64 L212.94,277.36 L213.51,277.08 L214.07,276.79 L214.63,276.51 L215.19,276.23 L215.75,275.94 L216.31,275.66 L216.88,275.38 L217.44,275.09 L218.00,274.81 L218.56,274.53 L219.12,274.24 L219.68,273.96 L220.25,273.68 L220.81,273.39 L221.37,273.11 L221.93,272.83 L222.49,272.56 L223.06,272.28 L223.62,272.01 L224.18,271.73 L224.74,271.46 L225.30,271.18 L225.86,270.91 L226.43,270.64 L226.99,270.36 L227.55,270.09 L228.11,269.81 L228.67,269.54 L229.24,269.26 L229.80,268.99 L230.36,268.71 L230.92,268.43 L231.48,268.15 L232.04,267.87 L232.61,267.59 L233.17,267.30 L233.73,267.01 L234.29,266.72 L234.85,266.43 L235.41,266.14 L235.98,265.84 L236.54,265.54 L237.10,265.24 L237.66,264.93 L238.22,264.62 L238.79,264.31 L239.35,264.00 L239.91,263.69 L240.47,263.37 L241.03,263.06 L241.59,262.74 L242.16,262.42 L242.72,262.10 L243.28,261.78 L243.84,261.46 L244.40,261.13 L244.97,260.80 L245.53,260.47 L246.09,260.14 L246.65,259.81 L247.21,259.47 L247.77,259.13 L248.34,258.79 L248.90,258.45 L249.46,258.10 L250.02,257.76 L250.58,257.41 L251.14,257.05 L251.71,256.69 L252.27,256.33 L252.83,255.97 L253.39,255.61 L253.95,255.24 L254.52,254.87 L255.08,254.49 L255.64,254.11 L256.20,253.73 L256.76,253.34 L257.32,252.95 L257.89,252.56 L258.45,252.16 L259.01,251.75 L259.57,251.33 L260.13,250.91 L260.69,250.49 L261.26,250.05 L261.82,249.62 L262.38,249.17 L262.94,248.73 L263.50,248.27 L264.07,247.82 L264.63,247.36 L265.19,246.89 L265.75,246.42 L266.31,245.95 L266.87,245.48 L267.44,245.00 L268.00,244.52 L268.56,244.03 L269.12,243.55 L269.68,243.06 L270.25,242.57 L270.81,242.08 L271.37,241.59 L271.93,241.09 L272.49,240.58 L273.05,240.07 L273.62,239.56 L274.18,239.04 L274.74,238.51 L275.30,237.98 L275.86,237.43 L276.42,236.89 L276.99,236.33 L277.55,235.76 L278.11,235.19 L278.67,234.60 L279.23,234.01 L279.80,233.41 L280.36,232.78 L280.92,232.14 L281.48,231.47 L282.04,230.79 L282.60,230.08 L283.17,229.37 L283.73,228.64 L284.29,227.90 L284.85,227.16 L285.41,226.41 L285.97,225.66 L286.54,224.90 L287.10,224.15 L287.66,223.40 L288.22,222.66 L288.78,221.92 L289.35,221.20 L289.91,220.49 L290.47,219.79 L291.03,219.11 L291.59,218.44 L292.15,217.78 L292.72,217.13 L293.28,216.48 L293.84,215.83 L294.40,215.18 L294.96,214.52 L295.53,213.85 L296.09,213.18 L296.65,212.48 L297.21,211.77 L297.77,211.04 L298.33,210.29 L298.90,209.54 L299.46,208.78 L300.02,208.01 L300.58,207.22 L301.14,206.43 L301.70,205.61 L302.27,204.78 L302.83,203.92 L303.39,203.04 L303.95,202.13 L304.51,201.19 L305.08,200.22 L305.64,199.21 L306.20,198.17 L306.76,197.08 L307.32,195.95 L307.88,194.78 L308.45,193.56 L309.01,192.30 L309.57,190.99 L310.13,189.63 L310.69,188.22 L311.26,186.75 L311.82,185.21 L312.38,183.61 L312.94,181.96 L313.50,180.25 L314.06,178.48 L314.63,176.67 L315.19,174.81 L315.75,172.91 L316.31,170.97 L316.87,169.00 L317.43,166.99 L318.00,164.96 L318.56,162.90 L319.12,160.82 L319.68,158.71 L320.24,156.60 L320.81,154.47 L321.37,152.33 L321.93,150.14 L322.49,147.86 L323.05,145.50 L323.61,143.09 L324.18,140.64 L324.74,138.16 L325.30,135.68 L325.86,133.21 L326.42,130.76 L326.98,128.37 L327.55,126.06 L328.11,123.78 L328.67,121.50 L329.23,119.16 L329.79,116.73 L330.36,114.17 L330.92,111.42 L331.48,108.41 L332.04,105.07 L332.60,101.52 L333.16,97.83 L333.73,94.10 L334.29,90.43 L334.85,86.89 L335.41,83.42 L335.97,79.95 L336.54,76.53 L337.10,73.22 L337.66,70.12 L338.22,67.42 L338.78,64.88 L339.34,62.18 L339.91,58.98 L340.47,54.97 L341.03,50.01 L341.59,44.15 L342.15,37.44 L342.71,29.97 L343.28,21.77 L343.84,12.93 L344.40,3.50" stroke="#f00" stroke-width="1.35" fill="none" stroke-dasharray="11 3.45" stroke-dashoffset="1.05" clip-path="url(#cl)"/>
<circle cx="120.25" cy="322.10" r="3.55" fill="#f00"/>
<circle cx="127.40" cy="319.90" r="3.55" fill="#f00"/>
<circle cx="134.70" cy="317.30" r="3.55" fill="#f00"/>
<circle cx="142.57" cy="314.20" r="3.55" fill="#f00"/>
<circle cx="150.20" cy="310.70" r="3.55" fill="#f00"/>
<circle cx="157.82" cy="306.70" r="3.55" fill="#f00"/>
<circle cx="165.45" cy="302.30" r="3.55" fill="#f00"/>
<circle cx="173.07" cy="297.90" r="3.55" fill="#f00"/>
<circle cx="180.70" cy="294.40" r="3.55" fill="#f00"/>
<circle cx="188.32" cy="290.90" r="3.55" fill="#f00"/>
<circle cx="195.95" cy="287.70" r="3.55" fill="#f00"/>
<circle cx="203.57" cy="284.10" r="3.55" fill="#f00"/>
<circle cx="211.20" cy="280.50" r="3.55" fill="#f00"/>
<circle cx="218.82" cy="277.20" r="3.55" fill="#f00"/>
<circle cx="226.45" cy="274.60" r="3.55" fill="#f00"/>
<circle cx="234.07" cy="272.30" r="3.55" fill="#f00"/>
<circle cx="241.70" cy="269.80" r="3.55" fill="#f00"/>
<circle cx="249.32" cy="267.80" r="3.55" fill="#f00"/>
<circle cx="256.95" cy="266.30" r="3.55" fill="#f00"/>
<circle cx="264.57" cy="264.80" r="3.55" fill="#f00"/>
<circle cx="272.20" cy="263.60" r="3.55" fill="#f00"/>
<circle cx="279.82" cy="262.40" r="3.55" fill="#f00"/>
<circle cx="287.45" cy="261.40" r="3.55" fill="#f00"/>
<circle cx="295.07" cy="260.90" r="3.55" fill="#f00"/>
<circle cx="302.70" cy="260.40" r="3.55" fill="#f00"/>
<circle cx="310.32" cy="260.00" r="3.55" fill="#f00"/>
<circle cx="317.95" cy="259.60" r="3.55" fill="#f00"/>
<circle cx="325.57" cy="259.30" r="3.55" fill="#f00"/>
<circle cx="333.20" cy="259.00" r="3.55" fill="#f00"/>
<circle cx="340.82" cy="258.80" r="3.55" fill="#f00"/>
<circle cx="348.45" cy="258.60" r="3.55" fill="#f00"/>
<circle cx="356.07" cy="258.40" r="3.55" fill="#f00"/>
<circle cx="363.70" cy="258.30" r="3.55" fill="#f00"/>
<circle cx="371.32" cy="258.20" r="3.55" fill="#f00"/>
<circle cx="378.95" cy="258.10" r="3.55" fill="#f00"/>
<circle cx="386.57" cy="258.10" r="3.55" fill="#f00"/>
<circle cx="394.20" cy="258.00" r="3.55" fill="#f00"/>
<circle cx="401.82" cy="257.90" r="3.55" fill="#f00"/>
<circle cx="409.45" cy="257.90" r="3.55" fill="#f00"/>
<path d="M507.30,324.06 L508.29,323.87 L509.27,323.67 L510.26,323.46 L511.25,323.23 L512.24,322.99 L513.22,322.75 L514.21,322.49 L515.20,322.22 L516.19,321.94 L517.17,321.65 L518.16,321.35 L519.15,321.05 L520.13,320.73 L521.12,320.41 L522.11,320.08 L523.10,319.74 L524.08,319.39 L525.07,319.03 L526.06,318.67 L527.05,318.30 L528.03,317.92 L529.02,317.53 L530.01,317.14 L530.99,316.74 L531.98,316.33 L532.97,315.92 L533.96,315.50 L534.94,315.07 L535.93,314.64 L536.92,314.20 L537.91,313.76 L538.89,313.31 L539.88,312.85 L540.87,312.38 L541.86,311.91 L542.84,311.44 L543.83,310.96 L544.82,310.47 L545.80,309.98 L546.79,309.48 L547.78,308.98 L548.77,308.47 L549.75,307.95 L550.74,307.43 L551.73,306.91 L552.72,306.38 L553.70,305.84 L554.69,305.30 L555.68,304.75 L556.66,304.20 L557.65,303.65 L558.64,303.09 L559.63,302.52 L560.61,301.95 L561.60,301.37 L562.59,300.79 L563.58,300.21 L564.56,299.62 L565.55,299.02 L566.54,298.42 L567.52,297.82 L568.51,297.21 L569.50,296.59 L570.49,295.98 L571.47,295.35 L572.46,294.73 L573.45,294.09 L574.44,293.46 L575.42,292.82 L576.41,292.17 L577.40,291.52 L578.38,290.87 L579.37,290.21 L580.36,289.55 L581.35,288.88 L582.33,288.21 L583.32,287.54 L584.31,286.86 L585.30,286.18 L586.28,285.49 L587.27,284.80 L588.26,284.10 L589.25,283.40 L590.23,282.70 L591.22,281.99 L592.21,281.28 L593.19,280.57 L594.18,279.85 L595.17,279.13 L596.16,278.40 L597.14,277.67 L598.13,276.93 L599.12,276.19 L600.11,275.45 L601.09,274.71 L602.08,273.96 L603.07,273.20 L604.05,272.45 L605.04,271.68 L606.03,270.92 L607.02,270.15 L608.00,269.38 L608.99,268.60 L609.98,267.82 L610.97,267.04 L611.95,266.25 L612.94,265.46 L613.93,264.67 L614.91,263.87 L615.90,263.07 L616.89,262.27 L617.88,261.46 L618.86,260.65 L619.85,259.83 L620.84,259.01 L621.83,258.19 L622.81,257.37 L623.80,256.54 L624.79,255.71 L625.77,254.87 L626.76,254.03 L627.75,253.19 L628.74,252.34 L629.72,251.49 L630.71,250.64 L631.70,249.79 L632.69,248.93 L633.67,248.06 L634.66,247.20 L635.65,246.33 L636.64,245.46 L637.62,244.58 L638.61,243.70 L639.60,242.82 L640.58,241.94 L641.57,241.05 L642.56,240.16 L643.55,239.26 L644.53,238.36 L645.52,237.46 L646.51,236.56 L647.50,235.65 L648.48,234.74 L649.47,233.83 L650.46,232.91 L651.44,231.99 L652.43,231.07 L653.42,230.14 L654.41,229.21 L655.39,228.28 L656.38,227.34 L657.37,226.41 L658.36,225.46 L659.34,224.52 L660.33,223.57 L661.32,222.62 L662.30,221.67 L663.29,220.71 L664.28,219.75 L665.27,218.79 L666.25,217.82 L667.24,216.86 L668.23,215.89 L669.22,214.91 L670.20,213.93 L671.19,212.95 L672.18,211.97 L673.16,210.99 L674.15,210.00 L675.14,209.01 L676.13,208.01 L677.11,207.01 L678.10,206.01 L679.09,205.01 L680.08,204.00 L681.06,203.00 L682.05,201.98 L683.04,200.97 L684.03,199.95 L685.01,198.93 L686.00,197.91 L686.99,196.88 L687.97,195.85 L688.96,194.82 L689.95,193.79 L690.94,192.75 L691.92,191.71 L692.91,190.67 L693.90,189.63 L694.89,188.58 L695.87,187.53 L696.86,186.47 L697.85,185.42 L698.83,184.36 L699.82,183.30 L700.81,182.23 L701.80,181.17 L702.78,180.10 L703.77,179.03 L704.76,177.95 L705.75,176.87 L706.73,175.79 L707.72,174.71 L708.71,173.62 L709.69,172.54 L710.68,171.45 L711.67,170.35 L712.66,169.26 L713.64,168.16 L714.63,167.06 L715.62,165.95 L716.61,164.85 L717.59,163.74 L718.58,162.63 L719.57,161.51 L720.55,160.40 L721.54,159.28 L722.53,158.15 L723.52,157.03 L724.50,155.90 L725.49,154.77 L726.48,153.64 L727.47,152.51 L728.45,151.37 L729.44,150.23 L730.43,149.09 L731.42,147.94 L732.40,146.79 L733.39,145.65 L734.38,144.49 L735.36,143.34 L736.35,142.18 L737.34,141.02 L738.33,139.86 L739.31,138.69 L740.30,137.53 L741.29,136.36 L742.28,135.19 L743.26,134.01 L744.25,132.83 L745.24,131.65 L746.22,130.47 L747.21,129.29 L748.20,128.10 L749.19,126.91 L750.17,125.72 L751.16,124.53 L752.15,123.33 L753.14,122.13 L754.12,120.93 L755.11,119.73 L756.10,118.52 L757.08,117.31 L758.07,116.10 L759.06,114.89 L760.05,113.67 L761.03,112.45 L762.02,111.23 L763.01,110.01 L764.00,108.79 L764.98,107.56 L765.97,106.33 L766.96,105.10 L767.94,103.86 L768.93,102.63 L769.92,101.39 L770.91,100.15 L771.89,98.90 L772.88,97.66 L773.87,96.41 L774.86,95.16 L775.84,93.90 L776.83,92.65 L777.82,91.39 L778.81,90.13 L779.79,88.87 L780.78,87.60 L781.77,86.34 L782.75,85.07 L783.74,83.80 L784.73,82.52 L785.72,81.25 L786.70,79.97 L787.69,78.69 L788.68,77.41 L789.67,76.12 L790.65,74.83 L791.64,73.55 L792.63,72.25 L793.61,70.96 L794.60,69.66 L795.59,68.37 L796.58,67.06 L797.56,65.76 L798.55,64.46 L799.54,63.15 L800.53,61.84 L801.51,60.53 L802.50,59.21" stroke="#0f0" stroke-width="1.35" fill="none"/>
<path d="M507.30,324.07 L508.29,323.88 L509.27,323.68 L510.26,323.46 L511.25,323.23 L512.24,322.99 L513.22,322.74 L514.21,322.47 L515.20,322.20 L516.19,321.92 L517.17,321.62 L518.16,321.32 L519.15,321.01 L520.13,320.69 L521.12,320.36 L522.11,320.02 L523.10,319.67 L524.08,319.32 L525.07,318.95 L526.06,318.58 L527.05,318.20 L528.03,317.82 L529.02,317.43 L530.01,317.03 L530.99,316.62 L531.98,316.20 L532.97,315.78 L533.96,315.36 L534.94,314.92 L535.93,314.48 L536.92,314.03 L537.91,313.58 L538.89,313.12 L539.88,312.65 L540.87,312.18 L541.86,311.70 L542.84,311.22 L543.83,310.73 L544.82,310.23 L545.80,309.73 L546.79,309.22 L547.78,308.71 L548.77,308.19 L549.75,307.67 L550.74,307.14 L551.73,306.60 L552.72,306.06 L553.70,305.52 L554.69,304.97 L555.68,304.41 L556.66,303.85 L557.65,303.28 L558.64,302.71 L559.63,302.13 L560.61,301.55 L561.60,300.96 L562.59,300.37 L563.58,299.78 L564.56,299.17 L565.55,298.57 L566.54,297.96 L567.52,297.34 L568.51,296.72 L569.50,296.10 L570.49,295.47 L571.47,294.83 L572.46,294.19 L573.45,293.55 L574.44,292.90 L575.42,292.25 L576.41,291.59 L577.40,290.93 L578.38,290.27 L579.37,289.60 L580.36,288.92 L581.35,288.24 L582.33,287.56 L583.32,286.87 L584.31,286.18 L585.30,285.48 L586.28,284.78 L587.27,284.08 L588.26,283.37 L589.25,282.66 L590.23,281.94 L591.22,281.22 L592.21,280.50 L593.19,279.77 L594.18,279.04 L595.17,278.30 L596.16,277.56 L597.14,276.82 L598.13,276.07 L599.12,275.32 L600.11,274.56 L601.09,273.80 L602.08,273.04 L603.07,272.27 L604.05,271.50 L605.04,270.72 L606.03,269.94 L607.02,269.16 L608.00,268.37 L608.99,267.58 L609.98,266.79 L610.97,265.99 L611.95,265.19 L612.94,264.38 L613.93,263.58 L614.91,262.76 L615.90,261.95 L616.89,261.13 L617.88,260.30 L618.86,259.48 L619.85,258.65 L620.84,257.81 L621.83,256.98 L622.81,256.14 L623.80,255.29 L624.79,254.44 L625.77,253.59 L626.76,252.74 L627.75,251.88 L628.74,251.02 L629.72,250.15 L630.71,249.28 L631.70,248.41 L632.69,247.54 L633.67,246.66 L634.66,245.78 L635.65,244.89 L636.64,244.00 L637.62,243.11 L638.61,242.22 L639.60,241.32 L640.58,240.42 L641.57,239.51 L642.56,238.60 L643.55,237.69 L644.53,236.78 L645.52,235.86 L646.51,234.94 L647.50,234.01 L648.48,233.09 L649.47,232.16 L650.46,231.22 L651.44,230.28 L652.43,229.34 L653.42,228.40 L654.41,227.45 L655.39,226.50 L656.38,225.55 L657.37,224.60 L658.36,223.64 L659.34,222.67 L660.33,221.71 L661.32,220.74 L662.30,219.77 L663.29,218.80 L664.28,217.82 L665.27,216.84 L666.25,215.85 L667.24,214.87 L668.23,213.88 L669.22,212.89 L670.20,211.89 L671.19,210.89 L672.18,209.89 L673.16,208.89 L674.15,207.88 L675.14,206.87 L676.13,205.86 L677.11,204.84 L678.10,203.82 L679.09,202.80 L680.08,201.78 L681.06,200.75 L682.05,199.72 L683.04,198.68 L684.03,197.65 L685.01,196.61 L686.00,195.57 L686.99,194.52 L687.97,193.47 L688.96,192.42 L689.95,191.37 L690.94,190.31 L691.92,189.25 L692.91,188.19 L693.90,187.13 L694.89,186.06 L695.87,184.99 L696.86,183.92 L697.85,182.84 L698.83,181.76 L699.82,180.68 L700.81,179.60 L701.80,178.51 L702.78,177.42 L703.77,176.33 L704.76,175.24 L705.75,174.14 L706.73,173.04 L707.72,171.93 L708.71,170.83 L709.69,169.72 L710.68,168.61 L711.67,167.50 L712.66,166.38 L713.64,165.26 L714.63,164.14 L715.62,163.01 L716.61,161.89 L717.59,160.76 L718.58,159.62 L719.57,158.49 L720.55,157.35 L721.54,156.21 L722.53,155.07 L723.52,153.92 L724.50,152.77 L725.49,151.62 L726.48,150.47 L727.47,149.31 L728.45,148.16 L729.44,147.00 L730.43,145.83 L731.42,144.67 L732.40,143.50 L733.39,142.33 L734.38,141.15 L735.36,139.98 L736.35,138.80 L737.34,137.62 L738.33,136.43 L739.31,135.24 L740.30,134.06 L741.29,132.86 L742.28,131.67 L743.26,130.47 L744.25,129.27 L745.24,128.07 L746.22,126.87 L747.21,125.66 L748.20,124.45 L749.19,123.24 L750.17,122.03 L751.16,120.81 L752.15,119.59 L753.14,118.37 L754.12,117.15 L755.11,115.92 L756.10,114.69 L757.08,113.46 L758.07,112.23 L759.06,110.99 L760.05,109.75 L761.03,108.51 L762.02,107.27 L763.01,106.03 L764.00,104.78 L764.98,103.53 L765.97,102.27 L766.96,101.02 L767.94,99.76 L768.93,98.50 L769.92,97.24 L770.91,95.98 L771.89,94.71 L772.88,93.44 L773.87,92.17 L774.86,90.89 L775.84,89.62 L776.83,88.34 L777.82,87.06 L778.81,85.77 L779.79,84.49 L780.78,83.20 L781.77,81.91 L782.75,80.62 L783.74,79.32 L784.73,78.02 L785.72,76.72 L786.70,75.42 L787.69,74.12 L788.68,72.81 L789.67,71.50 L790.65,70.19 L791.64,68.88 L792.63,67.56 L793.61,66.24 L794.60,64.92 L795.59,63.60 L796.58,62.28 L797.56,60.95 L798.55,59.62 L799.54,58.29 L800.53,56.95 L801.51,55.62 L802.50,54.28" stroke="#00f" stroke-width="1.35" fill="none"/>
<path d="M507.30,324.12 L508.29,323.92 L509.27,323.70 L510.26,323.47 L511.25,323.23 L512.24,322.98 L513.22,322.72 L514.21,322.44 L515.20,322.15 L516.19,321.85 L517.17,321.55 L518.16,321.23 L519.15,320.90 L520.13,320.56 L521.12,320.22 L522.11,319.86 L523.10,319.50 L524.08,319.13 L525.07,318.75 L526.06,318.36 L527.05,317.96 L528.03,317.56 L529.02,317.15 L530.01,316.73 L530.99,316.30 L531.98,315.86 L532.97,315.42 L533.96,314.97 L534.94,314.52 L535.93,314.06 L536.92,313.59 L537.91,313.11 L538.89,312.63 L539.88,312.14 L540.87,311.65 L541.86,311.14 L542.84,310.64 L543.83,310.12 L544.82,309.60 L545.80,309.08 L546.79,308.54 L547.78,308.01 L548.77,307.46 L549.75,306.91 L550.74,306.36 L551.73,305.80 L552.72,305.23 L553.70,304.66 L554.69,304.08 L555.68,303.50 L556.66,302.91 L557.65,302.31 L558.64,301.71 L559.63,301.11 L560.61,300.50 L561.60,299.88 L562.59,299.26 L563.58,298.64 L564.56,298.01 L565.55,297.37 L566.54,296.73 L567.52,296.08 L568.51,295.43 L569.50,294.78 L570.49,294.12 L571.47,293.45 L572.46,292.78 L573.45,292.11 L574.44,291.43 L575.42,290.74 L576.41,290.06 L577.40,289.36 L578.38,288.66 L579.37,287.96 L580.36,287.25 L581.35,286.54 L582.33,285.83 L583.32,285.11 L584.31,284.38 L585.30,283.65 L586.28,282.92 L587.27,282.18 L588.26,281.44 L589.25,280.69 L590.23,279.94 L591.22,279.18 L592.21,278.42 L593.19,277.66 L594.18,276.89 L595.17,276.12 L596.16,275.34 L597.14,274.56 L598.13,273.78 L599.12,272.99 L600.11,272.19 L601.09,271.40 L602.08,270.60 L603.07,269.79 L604.05,268.98 L605.04,268.17 L606.03,267.35 L607.02,266.53 L608.00,265.71 L608.99,264.88 L609.98,264.05 L610.97,263.21 L611.95,262.37 L612.94,261.52 L613.93,260.68 L614.91,259.82 L615.90,258.97 L616.89,258.11 L617.88,257.25 L618.86,256.38 L619.85,255.51 L620.84,254.63 L621.83,253.76 L622.81,252.88 L623.80,251.99 L624.79,251.10 L625.77,250.21 L626.76,249.31 L627.75,248.41 L628.74,247.51 L629.72,246.60 L630.71,245.69 L631.70,244.78 L632.69,243.86 L633.67,242.94 L634.66,242.01 L635.65,241.08 L636.64,240.15 L637.62,239.22 L638.61,238.28 L639.60,237.34 L640.58,236.39 L641.57,235.44 L642.56,234.49 L643.55,233.53 L644.53,232.58 L645.52,231.61 L646.51,230.65 L647.50,229.68 L648.48,228.70 L649.47,227.73 L650.46,226.75 L651.44,225.77 L652.43,224.78 L653.42,223.79 L654.41,222.80 L655.39,221.80 L656.38,220.80 L657.37,219.80 L658.36,218.80 L659.34,217.79 L660.33,216.77 L661.32,215.76 L662.30,214.74 L663.29,213.72 L664.28,212.69 L665.27,211.67 L666.25,210.64 L667.24,209.60 L668.23,208.56 L669.22,207.52 L670.20,206.48 L671.19,205.43 L672.18,204.38 L673.16,203.33 L674.15,202.27 L675.14,201.21 L676.13,200.15 L677.11,199.09 L678.10,198.02 L679.09,196.95 L680.08,195.87 L681.06,194.79 L682.05,193.71 L683.04,192.63 L684.03,191.54 L685.01,190.45 L686.00,189.36 L686.99,188.26 L687.97,187.17 L688.96,186.06 L689.95,184.96 L690.94,183.85 L691.92,182.74 L692.91,181.63 L693.90,180.51 L694.89,179.39 L695.87,178.27 L696.86,177.15 L697.85,176.02 L698.83,174.89 L699.82,173.75 L700.81,172.62 L701.80,171.48 L702.78,170.33 L703.77,169.19 L704.76,168.04 L705.75,166.89 L706.73,165.74 L707.72,164.58 L708.71,163.42 L709.69,162.26 L710.68,161.09 L711.67,159.92 L712.66,158.75 L713.64,157.58 L714.63,156.40 L715.62,155.22 L716.61,154.04 L717.59,152.86 L718.58,151.67 L719.57,150.48 L720.55,149.29 L721.54,148.09 L722.53,146.89 L723.52,145.69 L724.50,144.49 L725.49,143.28 L726.48,142.07 L727.47,140.86 L728.45,139.65 L729.44,138.43 L730.43,137.21 L731.42,135.99 L732.40,134.76 L733.39,133.53 L734.38,132.30 L735.36,131.07 L736.35,129.83 L737.34,128.59 L738.33,127.35 L739.31,126.11 L740.30,124.86 L741.29,123.61 L742.28,122.36 L743.26,121.10 L744.25,119.85 L745.24,118.59 L746.22,117.32 L747.21,116.06 L748.20,114.79 L749.19,113.52 L750.17,112.25 L751.16,110.97 L752.15,109.69 L753.14,108.41 L754.12,107.13 L755.11,105.84 L756.10,104.56 L757.08,103.26 L758.07,101.97 L759.06,100.68 L760.05,99.38 L761.03,98.08 L762.02,96.77 L763.01,95.47 L764.00,94.16 L764.98,92.85 L765.97,91.53 L766.96,90.22 L767.94,88.90 L768.93,87.58 L769.92,86.25 L770.91,84.93 L771.89,83.60 L772.88,82.27 L773.87,80.93 L774.86,79.60 L775.84,78.26 L776.83,76.92 L777.82,75.58 L778.81,74.23 L779.79,72.88 L780.78,71.53 L781.77,70.18 L782.75,68.82 L783.74,67.46 L784.73,66.10 L785.72,64.74 L786.70,63.37 L787.69,62.01 L788.68,60.64 L789.67,59.26 L790.65,57.89 L791.64,56.51 L792.63,55.13 L793.61,53.75 L794.60,52.37 L795.59,50.98 L796.58,49.59 L797.56,48.20 L798.55,46.80 L799.54,45.41 L800.53,44.01 L801.51,42.61 L802.50,41.20" stroke="#f00" stroke-width="1.35" fill="none"/>
<path d="M511.20,318.75L516.70,324.25M511.20,324.25L516.70,318.75M518.35,316.95L523.85,322.45M518.35,322.45L523.85,316.95M525.65,314.55L531.15,320.05M525.65,320.05L531.15,314.55M533.53,311.75L539.03,317.25M533.53,317.25L539.03,311.75M541.15,307.95L546.65,313.45M541.15,313.45L546.65,307.95M548.78,303.85L554.28,309.35M548.78,309.35L554.28,303.85M556.40,299.45L561.90,304.95M556.40,304.95L561.90,299.45M564.03,295.05L569.53,300.55M564.03,300.55L569.53,295.05M571.65,290.65L577.15,296.15M571.65,296.15L577.15,290.65M579.28,286.25L584.78,291.75M579.28,291.75L584.78,286.25M586.90,281.25L592.40,286.75M586.90,286.75L592.40,281.25M594.53,276.65L600.03,282.15M594.53,282.15L600.03,276.65M602.15,271.95L607.65,277.45M602.15,277.45L607.65,271.95M609.78,267.05L615.28,272.55M609.78,272.55L615.28,267.05M617.40,262.05L622.90,267.55M617.40,267.55L622.90,262.05M625.03,256.85L630.53,262.35M625.03,262.35L630.53,256.85M632.65,251.35L638.15,256.85M632.65,256.85L638.15,251.35M640.28,245.85L645.78,251.35M640.28,251.35L645.78,245.85M647.90,240.15L653.40,245.65M647.90,245.65L653.40,240.15M655.53,234.65L661.03,240.15M655.53,240.15L661.03,234.65M663.15,229.45L668.65,234.95M663.15,234.95L668.65,229.45M670.78,223.75L676.28,229.25M670.78,229.25L676.28,223.75M678.40,218.55L683.90,224.05M678.40,224.05L683.90,218.55M686.03,213.45L691.53,218.95M686.03,218.95L691.53,213.45M693.65,208.85L699.15,214.35M693.65,214.35L699.15,208.85M701.28,204.15L706.78,209.65M701.28,209.65L706.78,204.15M708.90,199.25L714.40,204.75M708.90,204.75L714.40,199.25M716.53,194.55L722.03,200.05M716.53,200.05L722.03,194.55M724.15,189.85L729.65,195.35M724.15,195.35L729.65,189.85M731.78,185.15L737.28,190.65M731.78,190.65L737.28,185.15M739.40,180.65L744.90,186.15M739.40,186.15L744.90,180.65M747.03,176.25L752.53,181.75M747.03,181.75L752.53,176.25M754.65,171.75L760.15,177.25M754.65,177.25L760.15,171.75M762.28,167.15L767.78,172.65M762.28,172.65L767.78,167.15M769.90,162.65L775.40,168.15M769.90,168.15L775.40,162.65M777.53,158.15L783.03,163.65M777.53,163.65L783.03,158.15M785.15,153.95L790.65,159.45M785.15,159.45L790.65,153.95M792.78,150.15L798.28,155.65M792.78,155.65L798.28,150.15M800.40,146.55L805.90,152.05M800.40,152.05L805.90,146.55" stroke="#0f0" stroke-width="1.2" fill="none"/>
<path d="M513.95,318.30 L517.55,324.50 L510.35,324.50Z" fill="#00f"/>
<path d="M521.10,316.50 L524.70,322.70 L517.50,322.70Z" fill="#00f"/>
<path d="M528.40,314.20 L532.00,320.40 L524.80,320.40Z" fill="#00f"/>
<path d="M536.28,311.40 L539.88,317.60 L532.68,317.60Z" fill="#00f"/>
<path d="M543.90,307.70 L547.50,313.90 L540.30,313.90Z" fill="#00f"/>
<path d="M551.53,303.70 L555.13,309.90 L547.93,309.90Z" fill="#00f"/>
<path d="M559.15,299.40 L562.75,305.60 L555.55,305.60Z" fill="#00f"/>
<path d="M566.78,295.20 L570.38,301.40 L563.18,301.40Z" fill="#00f"/>
<path d="M574.40,291.20 L578.00,297.40 L570.80,297.40Z" fill="#00f"/>
<path d="M582.03,287.20 L585.63,293.40 L578.43,293.40Z" fill="#00f"/>
<path d="M589.65,283.00 L593.25,289.20 L586.05,289.20Z" fill="#00f"/>
<path d="M597.28,279.40 L600.88,285.60 L593.68,285.60Z" fill="#00f"/>
<path d="M604.90,275.30 L608.50,281.50 L601.30,281.50Z" fill="#00f"/>
<path d="M612.53,271.20 L616.13,277.40 L608.93,277.40Z" fill="#00f"/>
<path d="M620.15,267.10 L623.75,273.30 L616.55,273.30Z" fill="#00f"/>
<path d="M627.78,262.80 L631.38,269.00 L624.18,269.00Z" fill="#00f"/>
<path d="M635.40,258.50 L639.00,264.70 L631.80,264.70Z" fill="#00f"/>
<path d="M643.03,254.00 L646.63,260.20 L639.43,260.20Z" fill="#00f"/>
<path d="M650.65,249.60 L654.25,255.80 L647.05,255.80Z" fill="#00f"/>
<path d="M658.28,245.30 L661.88,251.50 L654.68,251.50Z" fill="#00f"/>
<path d="M665.90,241.10 L669.50,247.30 L662.30,247.30Z" fill="#00f"/>
<path d="M673.53,237.30 L677.13,243.50 L669.93,243.50Z" fill="#00f"/>
<path d="M681.15,233.60 L684.75,239.80 L677.55,239.80Z" fill="#00f"/>
<path d="M688.78,230.00 L692.38,236.20 L685.18,236.20Z" fill="#00f"/>
<path d="M696.40,226.40 L700.00,232.60 L692.80,232.60Z" fill="#00f"/>
<path d="M704.03,222.90 L707.63,229.10 L700.43,229.10Z" fill="#00f"/>
<path d="M711.65,219.60 L715.25,225.80 L708.05,225.80Z" fill="#00f"/>
<path d="M719.28,216.10 L722.88,222.30 L715.68,222.30Z" fill="#00f"/>
<path d="M726.90,212.70 L730.50,218.90 L723.30,218.90Z" fill="#00f"/>
<path d="M734.53,209.20 L738.13,215.40 L730.93,215.40Z" fill="#00f"/>
<path d="M742.15,205.40 L745.75,211.60 L738.55,211.60Z" fill="#00f"/>
<path d="M749.78,201.60 L753.38,207.80 L746.18,207.80Z" fill="#00f"/>
<path d="M757.40,197.80 L761.00,204.00 L753.80,204.00Z" fill="#00f"/>
<path d="M765.03,194.10 L768.63,200.30 L761.43,200.30Z" fill="#00f"/>
<path d="M772.65,190.50 L776.25,196.70 L769.05,196.70Z" fill="#00f"/>
<path d="M780.28,187.10 L783.88,193.30 L776.68,193.30Z" fill="#00f"/>
<path d="M787.90,183.70 L791.50,189.90 L784.30,189.90Z" fill="#00f"/>
<path d="M795.53,180.70 L799.13,186.90 L791.93,186.90Z" fill="#00f"/>
<path d="M803.15,177.70 L806.75,183.90 L799.55,183.90Z" fill="#00f"/>
<circle cx="513.95" cy="321.60" r="3.55" fill="#f00"/>
<circle cx="521.10" cy="319.90" r="3.55" fill="#f00"/>
<circle cx="528.40" cy="317.70" r="3.55" fill="#f00"/>
<circle cx="536.28" cy="315.00" r="3.55" fill="#f00"/>
<circle cx="543.90" cy="311.40" r="3.55" fill="#f00"/>
<circle cx="551.53" cy="307.60" r="3.55" fill="#f00"/>
<circle cx="559.15" cy="303.50" r="3.55" fill="#f00"/>
<circle cx="566.78" cy="299.60" r="3.55" fill="#f00"/>
<circle cx="574.40" cy="296.10" r="3.55" fill="#f00"/>
<circle cx="582.03" cy="292.80" r="3.55" fill="#f00"/>
<circle cx="589.65" cy="289.50" r="3.55" fill="#f00"/>
<circle cx="597.28" cy="286.50" r="3.55" fill="#f00"/>
<circle cx="604.90" cy="283.20" r="3.55" fill="#f00"/>
<circle cx="612.53" cy="279.90" r="3.55" fill="#f00"/>
<circle cx="620.15" cy="277.20" r="3.55" fill="#f00"/>
<circle cx="627.78" cy="274.70" r="3.55" fill="#f00"/>
<circle cx="635.40" cy="272.20" r="3.55" fill="#f00"/>
<circle cx="643.03" cy="269.80" r="3.55" fill="#f00"/>
<circle cx="650.65" cy="267.00" r="3.55" fill="#f00"/>
<circle cx="658.28" cy="264.20" r="3.55" fill="#f00"/>
<circle cx="665.90" cy="261.60" r="3.55" fill="#f00"/>
<circle cx="673.53" cy="259.40" r="3.55" fill="#f00"/>
<circle cx="681.15" cy="257.20" r="3.55" fill="#f00"/>
<circle cx="688.78" cy="255.10" r="3.55" fill="#f00"/>
<circle cx="696.40" cy="252.90" r="3.55" fill="#f00"/>
<circle cx="704.03" cy="250.60" r="3.55" fill="#f00"/>
<circle cx="711.65" cy="248.30" r="3.55" fill="#f00"/>
<circle cx="719.28" cy="246.10" r="3.55" fill="#f00"/>
<circle cx="726.90" cy="243.90" r="3.55" fill="#f00"/>
<circle cx="734.53" cy="241.70" r="3.55" fill="#f00"/>
<circle cx="742.15" cy="239.50" r="3.55" fill="#f00"/>
<circle cx="749.78" cy="237.30" r="3.55" fill="#f00"/>
<circle cx="757.40" cy="235.20" r="3.55" fill="#f00"/>
<circle cx="765.03" cy="233.20" r="3.55" fill="#f00"/>
<circle cx="772.65" cy="231.60" r="3.55" fill="#f00"/>
<circle cx="780.28" cy="230.10" r="3.55" fill="#f00"/>
<circle cx="787.90" cy="228.40" r="3.55" fill="#f00"/>
<circle cx="795.53" cy="226.60" r="3.55" fill="#f00"/>
<circle cx="803.15" cy="225.00" r="3.55" fill="#f00"/>
<rect x="92.60" y="3.50" width="336.00" height="336.50" fill="none" stroke="#000" stroke-width="1.45"/>
<line x1="107.70" y1="340.00" x2="107.70" y2="332.40" stroke="#000" stroke-width="1.3"/>
<line x1="107.70" y1="3.50" x2="107.70" y2="11.10" stroke="#000" stroke-width="1.3"/>
<line x1="145.87" y1="340.00" x2="145.87" y2="337.00" stroke="#000" stroke-width="1.3"/>
<line x1="145.87" y1="3.50" x2="145.87" y2="6.50" stroke="#000" stroke-width="1.3"/>
<line x1="184.03" y1="340.00" x2="184.03" y2="335.00" stroke="#000" stroke-width="1.3"/>
<line x1="184.03" y1="3.50" x2="184.03" y2="8.50" stroke="#000" stroke-width="1.3"/>
<line x1="222.19" y1="340.00" x2="222.19" y2="337.00" stroke="#000" stroke-width="1.3"/>
<line x1="222.19" y1="3.50" x2="222.19" y2="6.50" stroke="#000" stroke-width="1.3"/>
<line x1="260.36" y1="340.00" x2="260.36" y2="335.00" stroke="#000" stroke-width="1.3"/>
<line x1="260.36" y1="3.50" x2="260.36" y2="8.50" stroke="#000" stroke-width="1.3"/>
<line x1="298.52" y1="340.00" x2="298.52" y2="337.00" stroke="#000" stroke-width="1.3"/>
<line x1="298.52" y1="3.50" x2="298.52" y2="6.50" stroke="#000" stroke-width="1.3"/>
<line x1="336.69" y1="340.00" x2="336.69" y2="335.00" stroke="#000" stroke-width="1.3"/>
<line x1="336.69" y1="3.50" x2="336.69" y2="8.50" stroke="#000" stroke-width="1.3"/>
<line x1="374.86" y1="340.00" x2="374.86" y2="337.00" stroke="#000" stroke-width="1.3"/>
<line x1="374.86" y1="3.50" x2="374.86" y2="6.50" stroke="#000" stroke-width="1.3"/>
<line x1="413.02" y1="340.00" x2="413.02" y2="335.00" stroke="#000" stroke-width="1.3"/>
<line x1="413.02" y1="3.50" x2="413.02" y2="8.50" stroke="#000" stroke-width="1.3"/>
<line x1="92.60" y1="323.20" x2="99.90" y2="323.20" stroke="#000" stroke-width="1.3"/>
<line x1="428.60" y1="323.20" x2="421.30" y2="323.20" stroke="#000" stroke-width="1.3"/>
<line x1="92.60" y1="282.20" x2="97.60" y2="282.20" stroke="#000" stroke-width="1.3"/>
<line x1="428.60" y1="282.20" x2="423.60" y2="282.20" stroke="#000" stroke-width="1.3"/>
<line x1="92.60" y1="241.20" x2="97.60" y2="241.20" stroke="#000" stroke-width="1.3"/>
<line x1="428.60" y1="241.20" x2="423.60" y2="241.20" stroke="#000" stroke-width="1.3"/>
<line x1="92.60" y1="200.20" x2="97.60" y2="200.20" stroke="#000" stroke-width="1.3"/>
<line x1="428.60" y1="200.20" x2="423.60" y2="200.20" stroke="#000" stroke-width="1.3"/>
<line x1="92.60" y1="159.20" x2="97.60" y2="159.20" stroke="#000" stroke-width="1.3"/>
<line x1="428.60" y1="159.20" x2="423.60" y2="159.20" stroke="#000" stroke-width="1.3"/>
<line x1="92.60" y1="118.20" x2="97.60" y2="118.20" stroke="#000" stroke-width="1.3"/>
<line x1="428.60" y1="118.20" x2="423.60" y2="118.20" stroke="#000" stroke-width="1.3"/>
<line x1="92.60" y1="77.20" x2="97.60" y2="77.20" stroke="#000" stroke-width="1.3"/>
<line x1="428.60" y1="77.20" x2="423.60" y2="77.20" stroke="#000" stroke-width="1.3"/>
<line x1="92.60" y1="36.20" x2="97.60" y2="36.20" stroke="#000" stroke-width="1.3"/>
<line x1="428.60" y1="36.20" x2="423.60" y2="36.20" stroke="#000" stroke-width="1.3"/>
<rect x="486.30" y="3.50" width="336.10" height="336.50" fill="none" stroke="#000" stroke-width="1.45"/>
<line x1="501.20" y1="340.00" x2="501.20" y2="332.40" stroke="#000" stroke-width="1.3"/>
<line x1="501.20" y1="3.50" x2="501.20" y2="11.10" stroke="#000" stroke-width="1.3"/>
<line x1="539.37" y1="340.00" x2="539.37" y2="337.00" stroke="#000" stroke-width="1.3"/>
<line x1="539.37" y1="3.50" x2="539.37" y2="6.50" stroke="#000" stroke-width="1.3"/>
<line x1="577.53" y1="340.00" x2="577.53" y2="335.00" stroke="#000" stroke-width="1.3"/>
<line x1="577.53" y1="3.50" x2="577.53" y2="8.50" stroke="#000" stroke-width="1.3"/>
<line x1="615.69" y1="340.00" x2="615.69" y2="337.00" stroke="#000" stroke-width="1.3"/>
<line x1="615.69" y1="3.50" x2="615.69" y2="6.50" stroke="#000" stroke-width="1.3"/>
<line x1="653.86" y1="340.00" x2="653.86" y2="335.00" stroke="#000" stroke-width="1.3"/>
<line x1="653.86" y1="3.50" x2="653.86" y2="8.50" stroke="#000" stroke-width="1.3"/>
<line x1="692.02" y1="340.00" x2="692.02" y2="337.00" stroke="#000" stroke-width="1.3"/>
<line x1="692.02" y1="3.50" x2="692.02" y2="6.50" stroke="#000" stroke-width="1.3"/>
<line x1="730.19" y1="340.00" x2="730.19" y2="335.00" stroke="#000" stroke-width="1.3"/>
<line x1="730.19" y1="3.50" x2="730.19" y2="8.50" stroke="#000" stroke-width="1.3"/>
<line x1="768.36" y1="340.00" x2="768.36" y2="337.00" stroke="#000" stroke-width="1.3"/>
<line x1="768.36" y1="3.50" x2="768.36" y2="6.50" stroke="#000" stroke-width="1.3"/>
<line x1="806.52" y1="340.00" x2="806.52" y2="335.00" stroke="#000" stroke-width="1.3"/>
<line x1="806.52" y1="3.50" x2="806.52" y2="8.50" stroke="#000" stroke-width="1.3"/>
<line x1="486.30" y1="323.20" x2="493.60" y2="323.20" stroke="#000" stroke-width="1.3"/>
<line x1="822.40" y1="323.20" x2="815.10" y2="323.20" stroke="#000" stroke-width="1.3"/>
<line x1="486.30" y1="282.20" x2="491.30" y2="282.20" stroke="#000" stroke-width="1.3"/>
<line x1="822.40" y1="282.20" x2="817.40" y2="282.20" stroke="#000" stroke-width="1.3"/>
<line x1="486.30" y1="241.20" x2="491.30" y2="241.20" stroke="#000" stroke-width="1.3"/>
<line x1="822.40" y1="241.20" x2="817.40" y2="241.20" stroke="#000" stroke-width="1.3"/>
<line x1="486.30" y1="200.20" x2="491.30" y2="200.20" stroke="#000" stroke-width="1.3"/>
<line x1="822.40" y1="200.20" x2="817.40" y2="200.20" stroke="#000" stroke-width="1.3"/>
<line x1="486.30" y1="159.20" x2="491.30" y2="159.20" stroke="#000" stroke-width="1.3"/>
<line x1="822.40" y1="159.20" x2="817.40" y2="159.20" stroke="#000" stroke-width="1.3"/>
<line x1="486.30" y1="118.20" x2="491.30" y2="118.20" stroke="#000" stroke-width="1.3"/>
<line x1="822.40" y1="118.20" x2="817.40" y2="118.20" stroke="#000" stroke-width="1.3"/>
<line x1="486.30" y1="77.20" x2="491.30" y2="77.20" stroke="#000" stroke-width="1.3"/>
<line x1="822.40" y1="77.20" x2="817.40" y2="77.20" stroke="#000" stroke-width="1.3"/>
<line x1="486.30" y1="36.20" x2="491.30" y2="36.20" stroke="#000" stroke-width="1.3"/>
<line x1="822.40" y1="36.20" x2="817.40" y2="36.20" stroke="#000" stroke-width="1.3"/>
<line x1="123.60" y1="85.10" x2="195.90" y2="85.10" stroke="#000" stroke-width="1.2"/>
<line x1="123.5" y1="114.2" x2="196.2" y2="114.2" stroke="#000" stroke-width="1.35" stroke-dasharray="11 3.45"/>
<line x1="123.6" y1="143.1" x2="195.9" y2="143.1" stroke="#000" stroke-width="1.35" stroke-dasharray="2.4 2.45"/>
<path d="M528.75,111.65L534.25,117.15M528.75,117.15L534.25,111.65" stroke="#0f0" stroke-width="1.2" fill="none"/>
<path d="M531.90,134.20 L535.50,140.40 L528.30,140.40Z" fill="#00f"/>
<circle cx="531.60" cy="161.90" r="3.55" fill="#f00"/>
</svg>
<div style="position:absolute;left:0;top:0;width:830px;height:401px;overflow:hidden;will-change:transform;-webkit-text-stroke-width:0.15px"><div style="position:absolute;top:24px;font-size:20.1px;line-height:22px;color:#000;white-space:nowrap;left:124.00px;">real space</div><div style="position:absolute;top:24px;font-size:20.1px;line-height:22px;color:#000;white-space:nowrap;left:516.80px;">redshift space</div><div style="position:absolute;top:75px;font-size:16.7px;line-height:19px;color:#000;white-space:nowrap;left:205.40px;">gaussian</div><div style="position:absolute;top:104px;font-size:16.7px;line-height:19px;color:#000;white-space:nowrap;left:205.10px;">PT</div><div style="position:absolute;top:132px;font-size:16.7px;line-height:19px;color:#000;white-space:nowrap;left:205.10px;">HM</div><div style="position:absolute;top:70px;font-size:16.7px;line-height:19px;color:#000;white-space:nowrap;left:522.70px;">V=(1Gpc/h)</div><div style="position:absolute;top:66px;font-size:12px;line-height:14px;color:#000;white-space:nowrap;left:608.60px;">3</div><div style="position:absolute;top:104px;font-size:16.4px;line-height:18px;color:#0f0;white-space:nowrap;left:545.70px;">z=3</div><div style="position:absolute;top:128px;font-size:16.4px;line-height:18px;color:#00f;white-space:nowrap;left:545.70px;">z=1</div><div style="position:absolute;top:152px;font-size:16.4px;line-height:18px;color:#f00;white-space:nowrap;left:545.70px;">z=0</div><div style="position:absolute;top:159px;font-size:20px;line-height:22px;color:#000;white-space:nowrap;left:8.50px;">S/N</div><div style="position:absolute;top:315px;font-size:17px;line-height:19px;color:#000;white-space:nowrap;right:740.10px;">0</div><div style="position:absolute;top:233px;font-size:17px;line-height:19px;color:#000;white-space:nowrap;right:740.10px;">200</div><div style="position:absolute;top:151px;font-size:17px;line-height:19px;color:#000;white-space:nowrap;right:740.10px;">400</div><div style="position:absolute;top:69px;font-size:17px;line-height:19px;color:#000;white-space:nowrap;right:740.10px;">600</div><div style="position:absolute;top:343px;font-size:17px;line-height:19px;color:#000;white-space:nowrap;left:67.70px;width:80px;text-align:center;">0</div><div style="position:absolute;top:343px;font-size:17px;line-height:19px;color:#000;white-space:nowrap;left:220.36px;width:80px;text-align:center;">0.2</div><div style="position:absolute;top:343px;font-size:17px;line-height:19px;color:#000;white-space:nowrap;left:373.02px;width:80px;text-align:center;">0.4</div><div style="position:absolute;top:343px;font-size:17px;line-height:19px;color:#000;white-space:nowrap;left:461.20px;width:80px;text-align:center;">0</div><div style="position:absolute;top:343px;font-size:17px;line-height:19px;color:#000;white-space:nowrap;left:613.86px;width:80px;text-align:center;">0.2</div><div style="position:absolute;top:343px;font-size:17px;line-height:19px;color:#000;white-space:nowrap;left:766.52px;width:80px;text-align:center;">0.4</div><div style="position:absolute;top:365px;font-size:20px;line-height:22px;color:#000;white-space:nowrap;left:219.60px;">k</div><div style="position:absolute;top:374px;font-size:14px;line-height:16px;color:#000;white-space:nowrap;left:230.20px;">max</div><div style="position:absolute;top:365px;font-size:20.4px;line-height:22px;color:#000;white-space:nowrap;left:262.50px;">(h/Mpc)</div><div style="position:absolute;top:370px;font-size:20px;line-height:22px;color:#000;white-space:nowrap;left:612.90px;">k</div><div style="position:absolute;top:379px;font-size:14px;line-height:16px;color:#000;white-space:nowrap;left:623.50px;">max</div><div style="position:absolute;top:370px;font-size:20.4px;line-height:22px;color:#000;white-space:nowrap;left:655.80px;">(h/Mpc)</div></div>
</body></html>
